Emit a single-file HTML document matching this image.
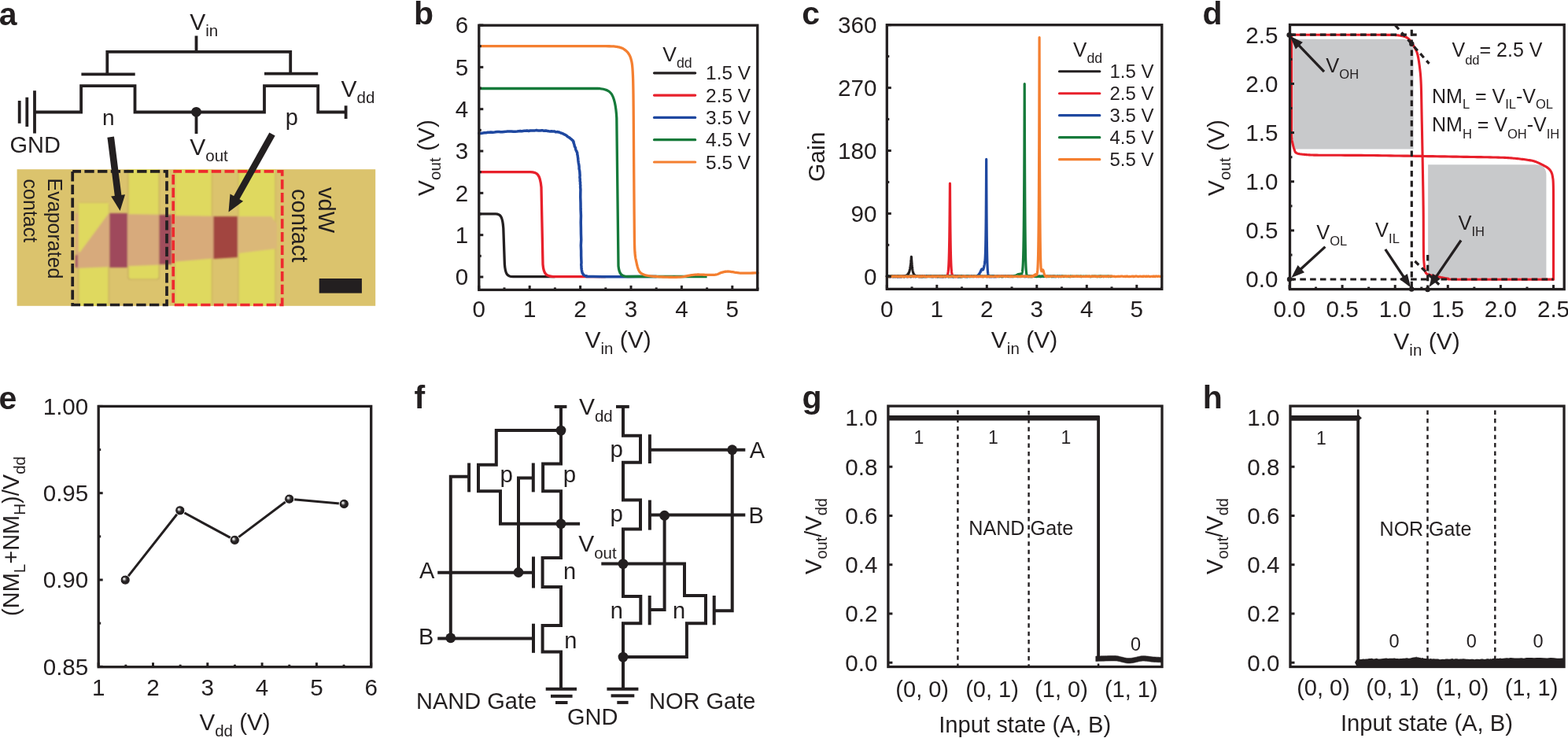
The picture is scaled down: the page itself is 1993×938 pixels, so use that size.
<!DOCTYPE html><html><head><meta charset="utf-8"><style>html,body{margin:0;padding:0;background:#fff;}svg{display:block;}text{font-family:'Liberation Sans', Arial, Helvetica, sans-serif;}</style></head><body>
<svg width="1993" height="938" viewBox="0 0 1993 938">
<defs><radialGradient id="sph" cx="0.5" cy="0.5" r="0.5" fx="0.36" fy="0.36"><stop offset="0" stop-color="#ffffff"/><stop offset="0.18" stop-color="#c8c8c8"/><stop offset="0.42" stop-color="#3a3738"/><stop offset="0.6" stop-color="#231f20"/><stop offset="1" stop-color="#231f20"/></radialGradient><filter id="blur1" x="-5%" y="-5%" width="110%" height="110%"><feGaussianBlur stdDeviation="1.2"/></filter></defs>
<rect width="1993" height="938" fill="#fff"/>
<text x="-1.2" y="31.6" font-size="41" font-weight="bold" fill="#231f20">a</text>
<text x="526" y="31.3" font-size="41" font-weight="bold" fill="#231f20">b</text>
<text x="1019.2" y="31.2" font-size="41" font-weight="bold" fill="#231f20">c</text>
<text x="1528.5" y="30.5" font-size="41" font-weight="bold" fill="#231f20">d</text>
<text x="-1.6" y="520.1" font-size="41" font-weight="bold" fill="#231f20">e</text>
<text x="526.5" y="519" font-size="41" font-weight="bold" fill="#231f20">f</text>
<text x="1019.5" y="519.3" font-size="41" font-weight="bold" fill="#231f20">g</text>
<text x="1528.7" y="519.1" font-size="41" font-weight="bold" fill="#231f20">h</text>
<g>
<rect x="21.6" y="215.2" width="455.6" height="173.6" fill="#dbc36d"/>
<clipPath id="photoclip"><rect x="21.6" y="215.2" width="455.6" height="173.6"/></clipPath><g clip-path="url(#photoclip)"><g filter="url(#blur1)">
<rect x="99.7" y="258" width="38.5" height="135" rx="3" fill="#dfd95e" stroke="#c5a862" stroke-width="1.2"/>
<path d="M162.9 210 V352 Q162.9 355 165.9 355 H199.3 Q202.3 355 202.3 352 V210 Z" fill="#dfd95e" stroke="#c5a862" stroke-width="1.2"/>
<rect x="222" y="210" width="47.4" height="185" fill="#dfd95e" stroke="#c5a862" stroke-width="1"/>
<rect x="303" y="210" width="47" height="185" fill="#dfd95e" stroke="#c5a862" stroke-width="1"/>
<polygon points="96,271 218,273 218,336 96,341" fill="#d7aa7b"/>
<polygon points="218,274 303,275 303,326 218,333" fill="#d8ab7a"/>
<polygon points="303,275 345,275 352,285 352,316 303,322" fill="#dbb878"/>
<polygon points="99.7,258 138.2,258 138.2,271 101.7,320.5 99.7,320" fill="#dfd95e"/>
<rect x="139.2" y="271" width="22.7" height="69" fill="#9f4a5b"/>
<rect x="202.3" y="273" width="15.7" height="63" fill="#a04e5c"/>
<polygon points="271.4,275 302,275 302,327 271.4,329" fill="#a2443f"/>
<rect x="95.8" y="324" width="3" height="16" fill="#a05068"/>
</g></g>
<rect x="92.2" y="217.9" width="119.8" height="169.6" fill="none" stroke="#231f20" stroke-width="3.7" stroke-dasharray="12.3 4.4" stroke-dashoffset="1.5"/>
<rect x="220.2" y="217.9" width="138.5" height="169.6" fill="none" stroke="#ee2a2e" stroke-width="3.7" stroke-dasharray="12.3 4.4" stroke-dashoffset="1.5"/>
<rect x="405.7" y="354" width="54.2" height="18.6" fill="#231f20"/>
<text transform="translate(60.8 226.6) rotate(90)" font-size="25" fill="#231f20">Evaporated</text>
<text transform="translate(30.4 227.6) rotate(90)" font-size="25" fill="#231f20">contact</text>
<text transform="translate(405.4 238) rotate(90)" font-size="29" fill="#231f20">vdW</text>
<text transform="translate(370.9 240) rotate(90)" font-size="29" fill="#231f20">contact</text>
</g>
<path d="M44 142.5 H103.1 V109.1 H171.5 V142.5 H336 V109.1 H404.2 V142.5 H439.6" stroke="#231f20" stroke-width="3.8" fill="none"/>
<line x1="103.4" y1="94.4" x2="171.7" y2="94.4" stroke="#231f20" stroke-width="3.8"/>
<line x1="336" y1="93.6" x2="404.2" y2="93.6" stroke="#231f20" stroke-width="3.8"/>
<path d="M136.3 94.4 V65.9 H369.2 V93.6" stroke="#231f20" stroke-width="3.8" fill="none"/>
<line x1="249.5" y1="45.5" x2="249.5" y2="65.9" stroke="#231f20" stroke-width="3.8"/>
<line x1="249.5" y1="142" x2="249.5" y2="170" stroke="#231f20" stroke-width="3.8"/>
<circle cx="249.5" cy="142.3" r="6.4" fill="#231f20"/>
<line x1="439.6" y1="134.3" x2="439.6" y2="151" stroke="#231f20" stroke-width="3.8"/>
<line x1="24.7" y1="128" x2="24.7" y2="156.8" stroke="#231f20" stroke-width="3.8"/>
<line x1="34.3" y1="123.7" x2="34.3" y2="161" stroke="#231f20" stroke-width="3.8"/>
<line x1="44" y1="115.2" x2="44" y2="169.5" stroke="#231f20" stroke-width="3.8"/>
<line x1="140.7" y1="174.1" x2="150.21" y2="249.25" stroke="#231f20" stroke-width="8.6"/>
<polygon points="152.6,268.1 141.16,249.39 159.02,247.13" fill="#231f20"/>
<line x1="346" y1="170.5" x2="300.28" y2="252.05" stroke="#231f20" stroke-width="8.4"/>
<polygon points="290.5,269.5 292.48,246.54 309.06,255.83" fill="#231f20"/>
<text x="241.3" y="38" font-size="30" fill="#231f20"><tspan dy="-0" font-size="30">V</tspan><tspan dy="8.3" font-size="20.5">in</tspan></text>
<text x="433.5" y="123" font-size="30" fill="#231f20"><tspan dy="-0" font-size="30">V</tspan><tspan dy="8.3" font-size="20.5">dd</tspan></text>
<text x="241.3" y="196.7" font-size="30" fill="#231f20"><tspan dy="-0" font-size="30">V</tspan><tspan dy="8.3" font-size="20.5">out</tspan></text>
<text x="12.5" y="194.3" font-size="29" fill="#231f20">GND</text>
<text x="130" y="159" font-size="28" fill="#231f20">n</text>
<text x="362.8" y="158.6" font-size="29" fill="#231f20">p</text>
<path d="M609 271.9 H630 C636.5 271.9 638.8 276 639.8 290 L641.4 336 C642.3 348 644.5 351.6 652 351.6 H705.4" stroke="#231f20" stroke-width="3.3" fill="none" stroke-linejoin="round"/>
<path d="M609 218.7 H674 C682.5 218.7 686.5 221.5 688 238 L690 336 C691 348 694 351.3 703 351.6 H769.8" stroke="#e8202b" stroke-width="3.3" fill="none" stroke-linejoin="round"/>
<path d="M608.83 169.53 L610.25 169.3 L611.67 169.4 L613.89 169.06 L615.84 168.71 L617.72 168.65 L620.04 168.3 L622.1 168.28 L623.82 168 L626.24 168.35 L628.23 168.13 L629.89 167.8 L632.2 167.53 L634.51 167.61 L636.19 167.83 L638.27 167.83 L640.57 167.49 L642.69 167.37 L644.84 166.98 L647.53 167.03 L649.96 166.93 L652.57 167.33 L654.95 167.16 L657.24 167.05 L659.21 166.78 L661.53 166.49 L663.37 166.87 L664.8 166.4 L666.47 166.31 L668.44 166.21 L669.76 165.92 L672.02 166.46 L673.86 166.01 L675.89 166.1 L677.76 165.94 L680.01 165.9 L681.94 165.57 L684.25 166.12 L686.6 165.95 L688.98 165.68 L691.21 166.28 L693.8 166.09 L695.79 166.42 L697.72 166.76 L699.16 166.93 L700.99 166.81 L702.42 166.92 L703.57 166.93 L705.19 167.06 L706.1 167.7 L707.68 167.65 L708.87 167.54 L709.7 167.91 L710.88 168.07 L711.78 168.6 L712.99 168.95 L714.31 169.34 L715.37 169.78 L716.24 170.23 L717.06 170.71 L717.88 171.2 L719.12 171.72 L719.78 172.27 L720.71 172.84 L721.17 173.41 L722.03 173.97 L723.07 174.5 L723.74 175 L724.44 175.49 L724.93 175.97 L725.42 176.43 L726.04 176.87 L726.67 177.3 L726.85 177.66 L727.35 177.96 L727.57 178.24 L728.13 178.55 L728.06 178.96 L728.69 179.5 L729.11 180.22 L728.89 181.07 L729.41 182.02 L729.66 183 L730.01 183.98 L730.14 184.9 L730.27 185.77 L730.66 186.63 L731.27 187.48 L731.57 188.33 L731.51 189.17 L731.8 190 L732.09 190.77 L732.35 191.46 L732.85 192.14 L732.98 192.89 L733.61 193.78 L733.78 194.9 L733.78 196.27 L734.24 197.83 L734.39 199.53 L734.72 201.33 L734.82 203.17 L735.03 205 L735.27 206.83 L735.6 208.69 L735.99 210.59 L736.13 212.54 L736.08 214.55 L736.61 216.6 L736.86 218.71 L736.98 220.87 L737.15 223.09 L736.9 225.35 L737.26 227.65 L737.18 230 L737.64 232.06 L737.43 233.77 L737.78 235.53 L737.62 237.72 L737.92 240.75 L737.81 245 L737.76 250.82 L738.02 257.96 L738.07 265.94 L738.45 274.26 L738.23 282.44 L738.4 290 L738.48 297.27 L738.73 304.7 L738.34 312 L738.64 318.85 L738.64 324.95 L738.82 330 L739 333.81 L738.72 336.59 L738.98 338.62 L738.97 340.19 L739.1 341.55 L739.3 343 L739.55 344.45 L739.83 345.67 L740.16 346.69 L740.54 347.56 L740.98 348.31 L741.5 349 L742.08 349.58 L742.7 350.01 L743.39 350.34 L744.16 350.59 L745.02 350.79 L746 351 L746.3 351.19 L745.73 351.33 L745.27 351.43 L745.86 351.5 L748.45 351.55 L754 351.6 L764.12 351.63 L778.36 351.64 L794.6 351.64 L810.73 351.62 L824.64 351.61 L834.2 351.6" stroke="#1f48a0" stroke-width="3.5" fill="none" stroke-linejoin="round" stroke-linecap="round"/>
<path d="M609 112.5 H760 C775 112.5 782 117 783.8 150 L786 338 C787 348.5 790 351.3 798 351.5 H898.6" stroke="#157a3a" stroke-width="3.3" fill="none" stroke-linejoin="round"/>
<path d="M609 58.6 L616.16 58.6 L625.84 58.6 L637.38 58.6 L650.12 58.59 L663.41 58.59 L676.59 58.59 L689.01 58.6 L700 58.6 L710.15 58.6 L720.34 58.61 L730.34 58.61 L739.94 58.62 L748.92 58.63 L757.07 58.64 L764.17 58.67 L770 58.7 L774.31 58.74 L777.2 58.78 L778.97 58.82 L779.94 58.87 L780.42 58.93 L780.71 59 L781.14 59.09 L782 59.2 L783.13 59.33 L784.16 59.47 L785.1 59.62 L785.96 59.79 L786.77 59.97 L787.54 60.17 L788.27 60.38 L789 60.6 L789.69 60.83 L790.31 61.06 L790.89 61.3 L791.43 61.55 L791.96 61.83 L792.49 62.14 L793.03 62.5 L793.6 62.9 L794.21 63.35 L794.84 63.82 L795.48 64.33 L796.12 64.88 L796.75 65.46 L797.37 66.09 L797.95 66.77 L798.5 67.5 L799.01 68.26 L799.51 69.04 L799.98 69.86 L800.43 70.72 L800.86 71.66 L801.26 72.67 L801.64 73.78 L802 75 L802.33 76.23 L802.63 77.42 L802.9 78.64 L803.16 79.97 L803.39 81.49 L803.61 83.29 L803.81 85.43 L804 88 L804.18 90.76 L804.33 93.54 L804.47 96.5 L804.59 99.81 L804.7 103.65 L804.8 108.18 L804.9 113.57 L805 120 L805.09 127.7 L805.18 136.62 L805.25 146.48 L805.32 157 L805.39 167.89 L805.46 178.88 L805.53 189.67 L805.6 200 L805.68 210.29 L805.75 220.98 L805.83 231.85 L805.9 242.62 L805.98 253.08 L806.05 262.95 L806.12 272.01 L806.2 280 L806.26 286.92 L806.31 292.99 L806.36 298.33 L806.41 303.05 L806.47 307.27 L806.54 311.09 L806.65 314.63 L806.8 318 L806.98 321.02 L807.2 323.51 L807.43 325.58 L807.69 327.32 L807.97 328.85 L808.27 330.26 L808.58 331.68 L808.9 333.2 L809.23 334.78 L809.58 336.3 L809.94 337.75 L810.31 339.12 L810.71 340.42 L811.12 341.61 L811.55 342.71 L812 343.7 L812.45 344.55 L812.89 345.27 L813.33 345.88 L813.79 346.39 L814.31 346.85 L814.88 347.27 L815.54 347.68 L816.3 348.1 L817.12 348.52 L817.98 348.91 L818.88 349.26 L819.87 349.59 L820.96 349.9 L822.18 350.18 L823.55 350.45 L825.1 350.7 L826.85 350.93 L828.78 351.14 L830.87 351.34 L833.08 351.51 L835.4 351.66 L837.79 351.79 L840.23 351.9 L842.7 352 L845.29 352.09 L848.08 352.16 L850.98 352.23 L853.93 352.27 L856.84 352.28 L859.64 352.26 L862.25 352.21 L864.6 352.1 L866.7 351.93 L868.61 351.68 L870.38 351.39 L872.02 351.06 L873.55 350.73 L875.01 350.41 L876.42 350.13 L877.8 349.9 L879.08 349.72 L880.21 349.55 L881.23 349.41 L882.21 349.29 L883.18 349.19 L884.2 349.1 L885.32 349.04 L886.6 349 L888.05 348.99 L889.63 349.03 L891.31 349.09 L893.04 349.17 L894.78 349.25 L896.5 349.33 L898.15 349.38 L899.7 349.4 L901.17 349.4 L902.61 349.41 L904.02 349.41 L905.38 349.39 L906.7 349.35 L907.96 349.28 L909.16 349.17 L910.3 349 L911.34 348.76 L912.28 348.45 L913.15 348.09 L913.97 347.71 L914.77 347.31 L915.57 346.93 L916.41 346.59 L917.3 346.3 L918.23 346.05 L919.17 345.82 L920.12 345.6 L921.08 345.4 L922.07 345.24 L923.08 345.11 L924.12 345.03 L925.2 345 L926.33 345.04 L927.52 345.15 L928.75 345.31 L930 345.51 L931.26 345.73 L932.5 345.94 L933.72 346.14 L934.9 346.3 L935.96 346.44 L936.89 346.58 L937.77 346.72 L938.64 346.86 L939.6 346.98 L940.7 347.08 L942.01 347.15 L943.6 347.2 L945.65 347.21 L948.15 347.18 L950.94 347.13 L953.84 347.06 L956.68 346.98 L959.26 346.9 L961.43 346.84 L963 346.8" stroke="#f47f30" stroke-width="3.3" fill="none" stroke-linejoin="round" stroke-linecap="round"/>
<line x1="608.8" y1="368.4" x2="608.8" y2="362.9" stroke="#231f20" stroke-width="3"/>
<text x="608.8" y="403.3" font-size="29.6" text-anchor="middle" fill="#231f20">0</text>
<line x1="641" y1="368.4" x2="641" y2="365.4" stroke="#231f20" stroke-width="3"/>
<line x1="673.2" y1="368.4" x2="673.2" y2="362.9" stroke="#231f20" stroke-width="3"/>
<text x="673.2" y="403.3" font-size="29.6" text-anchor="middle" fill="#231f20">1</text>
<line x1="705.4" y1="368.4" x2="705.4" y2="365.4" stroke="#231f20" stroke-width="3"/>
<line x1="737.6" y1="368.4" x2="737.6" y2="362.9" stroke="#231f20" stroke-width="3"/>
<text x="737.6" y="403.3" font-size="29.6" text-anchor="middle" fill="#231f20">2</text>
<line x1="769.8" y1="368.4" x2="769.8" y2="365.4" stroke="#231f20" stroke-width="3"/>
<line x1="802" y1="368.4" x2="802" y2="362.9" stroke="#231f20" stroke-width="3"/>
<text x="802" y="403.3" font-size="29.6" text-anchor="middle" fill="#231f20">3</text>
<line x1="834.2" y1="368.4" x2="834.2" y2="365.4" stroke="#231f20" stroke-width="3"/>
<line x1="866.4" y1="368.4" x2="866.4" y2="362.9" stroke="#231f20" stroke-width="3"/>
<text x="866.4" y="403.3" font-size="29.6" text-anchor="middle" fill="#231f20">4</text>
<line x1="898.6" y1="368.4" x2="898.6" y2="365.4" stroke="#231f20" stroke-width="3"/>
<line x1="930.8" y1="368.4" x2="930.8" y2="362.9" stroke="#231f20" stroke-width="3"/>
<text x="930.8" y="403.3" font-size="29.6" text-anchor="middle" fill="#231f20">5</text>
<line x1="963" y1="368.4" x2="963" y2="365.4" stroke="#231f20" stroke-width="3"/>
<line x1="608.8" y1="352" x2="614.3" y2="352" stroke="#231f20" stroke-width="3"/>
<text x="595.3" y="362.33" font-size="29.6" text-anchor="end" fill="#231f20">0</text>
<line x1="608.8" y1="325.33" x2="611.8" y2="325.33" stroke="#231f20" stroke-width="3"/>
<line x1="608.8" y1="298.67" x2="614.3" y2="298.67" stroke="#231f20" stroke-width="3"/>
<text x="595.3" y="309" font-size="29.6" text-anchor="end" fill="#231f20">1</text>
<line x1="608.8" y1="272" x2="611.8" y2="272" stroke="#231f20" stroke-width="3"/>
<line x1="608.8" y1="245.34" x2="614.3" y2="245.34" stroke="#231f20" stroke-width="3"/>
<text x="595.3" y="255.67" font-size="29.6" text-anchor="end" fill="#231f20">2</text>
<line x1="608.8" y1="218.68" x2="611.8" y2="218.68" stroke="#231f20" stroke-width="3"/>
<line x1="608.8" y1="192.01" x2="614.3" y2="192.01" stroke="#231f20" stroke-width="3"/>
<text x="595.3" y="202.34" font-size="29.6" text-anchor="end" fill="#231f20">3</text>
<line x1="608.8" y1="165.34" x2="611.8" y2="165.34" stroke="#231f20" stroke-width="3"/>
<line x1="608.8" y1="138.68" x2="614.3" y2="138.68" stroke="#231f20" stroke-width="3"/>
<text x="595.3" y="149.01" font-size="29.6" text-anchor="end" fill="#231f20">4</text>
<line x1="608.8" y1="112.02" x2="611.8" y2="112.02" stroke="#231f20" stroke-width="3"/>
<line x1="608.8" y1="85.35" x2="614.3" y2="85.35" stroke="#231f20" stroke-width="3"/>
<text x="595.3" y="95.68" font-size="29.6" text-anchor="end" fill="#231f20">5</text>
<line x1="608.8" y1="58.69" x2="611.8" y2="58.69" stroke="#231f20" stroke-width="3"/>
<line x1="608.8" y1="32.02" x2="614.3" y2="32.02" stroke="#231f20" stroke-width="3"/>
<text x="595.3" y="42.35" font-size="29.6" text-anchor="end" fill="#231f20">6</text>
<rect x="608.8" y="32.2" width="354" height="336.2" fill="none" stroke="#231f20" stroke-width="3.3"/>
<text x="842.3" y="77.8" font-size="26.5" fill="#231f20"><tspan dy="-0" font-size="26.5">V</tspan><tspan dy="8" font-size="17.8">dd</tspan></text>
<line x1="831.5" y1="92.8" x2="883.7" y2="92.8" stroke="#231f20" stroke-width="3.2" stroke-linecap="round"/>
<text x="897" y="101.3" font-size="24.5" fill="#231f20">1.5 V</text>
<line x1="831.5" y1="121.1" x2="883.7" y2="121.1" stroke="#e8202b" stroke-width="3.2" stroke-linecap="round"/>
<text x="897" y="129.6" font-size="24.5" fill="#231f20">2.5 V</text>
<line x1="831.5" y1="149.4" x2="883.7" y2="149.4" stroke="#1f48a0" stroke-width="3.2" stroke-linecap="round"/>
<text x="897" y="157.9" font-size="24.5" fill="#231f20">3.5 V</text>
<line x1="831.5" y1="177.7" x2="883.7" y2="177.7" stroke="#157a3a" stroke-width="3.2" stroke-linecap="round"/>
<text x="897" y="186.2" font-size="24.5" fill="#231f20">4.5 V</text>
<line x1="831.5" y1="206" x2="883.7" y2="206" stroke="#f47f30" stroke-width="3.2" stroke-linecap="round"/>
<text x="897" y="214.5" font-size="24.5" fill="#231f20">5.5 V</text>
<text x="785.7" y="441.9" font-size="30" text-anchor="middle" fill="#231f20"><tspan dy="-0" font-size="30">V</tspan><tspan dy="8.2" font-size="20.5">in</tspan><tspan dy="-8.2" font-size="30"> (V)</tspan></text>
<text x="0" y="0" font-size="30" text-anchor="middle" fill="#231f20" transform="translate(552 200.5) rotate(-90)"><tspan dy="-0" font-size="30">V</tspan><tspan dy="8.2" font-size="20.5">out</tspan><tspan dy="-8.2" font-size="30"> (V)</tspan></text>
<path d="M1127.3 351.04 L1127.49 351.54 L1127.68 351.48 L1127.87 351.13 L1128.06 351.3 L1128.25 351.26 L1128.44 351.41 L1128.63 351.5 L1128.82 351.02 L1129.01 350.97 L1129.2 351.54 L1129.4 351.25 L1129.59 351.48 L1129.78 350.95 L1129.97 351.26 L1130.16 351.46 L1130.35 351.11 L1130.54 351.61 L1130.73 351.58 L1130.92 350.97 L1131.11 350.97 L1131.3 351.33 L1131.49 351.61 L1131.68 351.22 L1131.87 351.1 L1132.06 351.25 L1132.25 350.97 L1132.44 351.11 L1132.63 351.26 L1132.82 351.3 L1133.01 351.11 L1133.21 351.11 L1133.4 351.1 L1133.59 351.27 L1133.78 351.15 L1133.97 350.96 L1134.16 351.54 L1134.35 351.34 L1134.54 351.4 L1134.73 351.08 L1134.92 351.64 L1135.11 351.55 L1135.3 351.03 L1135.49 351.18 L1135.68 351.45 L1135.87 351.45 L1136.06 351.61 L1136.25 351.25 L1136.44 351.53 L1136.63 351.42 L1136.83 351.16 L1137.02 351.36 L1137.21 351.57 L1137.4 351.54 L1137.59 351.3 L1137.78 351.36 L1137.97 350.97 L1138.16 351.12 L1138.35 351.51 L1138.54 351.24 L1138.73 351.07 L1138.92 351.33 L1139.11 351.44 L1139.3 351.42 L1139.49 351.21 L1139.68 351.26 L1139.87 351.3 L1140.06 351.49 L1140.25 351.31 L1140.44 351.22 L1140.63 351.29 L1140.83 350.97 L1141.02 350.98 L1141.21 351.44 L1141.4 351.63 L1141.59 351.36 L1141.78 351.22 L1141.97 351.06 L1142.16 351.3 L1142.35 351.63 L1142.54 351.48 L1142.73 351.32 L1142.92 351.54 L1143.11 351.1 L1143.3 351.3 L1143.49 351.61 L1143.68 351.34 L1143.87 351.26 L1144.06 351.13 L1144.25 351.32 L1144.44 351.6 L1144.64 350.94 L1144.83 351.48 L1145.02 351.5 L1145.21 351.55 L1145.4 351.44 L1145.59 351.49 L1145.78 351.28 L1145.97 351.31 L1146.16 351.21 L1146.35 350.95 L1146.54 351.51 L1146.73 351.3 L1146.92 351.03 L1147.11 351.24 L1147.3 351.22 L1147.49 351.12 L1147.68 351.1 L1147.87 351.23 L1148.06 351.28 L1148.25 351.26 L1148.31 351.15 L1148.36 350.84 L1148.41 350.98 L1148.45 350.94 L1148.46 351.23 L1148.51 351.42 L1148.56 351.37 L1148.61 351.36 L1148.64 351.37 L1148.66 350.98 L1148.71 351.39 L1148.76 351.26 L1148.81 350.85 L1148.83 350.8 L1148.86 350.79 L1148.92 351.31 L1148.97 350.95 L1149.02 350.85 L1149.07 351.2 L1149.12 351 L1149.17 350.8 L1149.21 350.86 L1149.22 351.12 L1149.27 350.86 L1149.32 350.93 L1149.37 351.23 L1149.4 351.05 L1149.42 350.95 L1149.47 351.05 L1149.52 350.73 L1149.58 350.98 L1149.59 351 L1149.63 350.84 L1149.68 350.77 L1149.73 351.32 L1149.78 351.04 L1149.83 350.82 L1149.88 351.09 L1149.93 351.23 L1149.97 350.67 L1149.98 350.67 L1150.03 350.75 L1150.08 351.14 L1150.13 350.74 L1150.16 351.12 L1150.19 351.09 L1150.24 350.99 L1150.29 350.76 L1150.34 351.27 L1150.35 351.15 L1150.39 350.94 L1150.44 350.73 L1150.49 351.02 L1150.54 350.83 L1150.59 350.94 L1150.64 350.75 L1150.69 350.96 L1150.73 350.55 L1150.74 350.72 L1150.79 351.17 L1150.85 351.1 L1150.9 350.68 L1150.92 351.06 L1150.95 350.67 L1151 351.1 L1151.05 350.95 L1151.1 350.71 L1151.11 350.59 L1151.15 350.41 L1151.2 351 L1151.25 350.4 L1151.3 350.93 L1151.35 351.01 L1151.4 350.72 L1151.46 350.43 L1151.49 350.9 L1151.51 350.97 L1151.56 350.76 L1151.61 350.61 L1151.66 350.5 L1151.68 350.47 L1151.71 350.36 L1151.76 350.67 L1151.81 350.48 L1151.86 350.29 L1151.87 350.22 L1151.91 350.6 L1151.96 350.32 L1152.01 350.44 L1152.07 350.29 L1152.12 350.65 L1152.17 350.64 L1152.22 350 L1152.26 350.11 L1152.27 350.19 L1152.32 350.63 L1152.37 350.46 L1152.42 350.12 L1152.45 350.02 L1152.47 350.32 L1152.52 350.41 L1152.57 350.44 L1152.62 350 L1152.64 350.37 L1152.67 350.21 L1152.73 350.03 L1152.78 350.35 L1152.83 349.79 L1152.88 350.1 L1152.93 349.61 L1152.98 349.64 L1153.02 350.13 L1153.03 349.63 L1153.08 349.97 L1153.13 349.82 L1153.18 349.94 L1153.21 349.59 L1153.23 349.55 L1153.28 349.47 L1153.34 349.83 L1153.39 349.6 L1153.4 349.83 L1153.44 349.75 L1153.49 349.17 L1153.54 349.41 L1153.59 349.05 L1153.64 348.95 L1153.69 348.92 L1153.74 349.42 L1153.78 349.32 L1153.79 349.33 L1153.84 348.93 L1153.89 349.06 L1153.94 349.12 L1153.97 348.8 L1154 348.91 L1154.05 348.6 L1154.1 348.43 L1154.15 348.49 L1154.16 348.91 L1154.2 348.63 L1154.25 348.81 L1154.3 348.4 L1154.35 348.2 L1154.4 348.48 L1154.45 348.42 L1154.5 347.77 L1154.54 348.17 L1154.55 347.74 L1154.61 347.67 L1154.66 348.11 L1154.71 347.43 L1154.73 347.52 L1154.76 348 L1154.81 347.5 L1154.86 347.19 L1154.91 347.12 L1154.92 347.14 L1154.96 347.42 L1155.01 346.86 L1155.06 347.31 L1155.11 346.82 L1155.16 347.12 L1155.21 346.95 L1155.27 346.54 L1155.3 346.45 L1155.32 346.41 L1155.37 346.28 L1155.42 346.15 L1155.47 346.01 L1155.49 345.94 L1155.52 345.86 L1155.57 345.72 L1155.62 345.57 L1155.67 345.41 L1155.68 345.37 L1155.72 345.25 L1155.77 345.09 L1155.82 344.92 L1155.88 344.75 L1155.93 344.57 L1155.98 344.39 L1156.03 344.2 L1156.07 344.06 L1156.08 344.01 L1156.13 343.81 L1156.18 343.61 L1156.23 343.4 L1156.26 343.3 L1156.28 343.19 L1156.33 342.97 L1156.38 342.74 L1156.43 342.51 L1156.45 342.45 L1156.48 342.28 L1156.54 342.03 L1156.59 341.78 L1156.64 341.52 L1156.69 341.26 L1156.74 340.99 L1156.79 340.71 L1156.83 340.5 L1156.84 340.42 L1156.89 340.13 L1156.94 339.83 L1156.99 339.52 L1157.02 339.36 L1157.04 339.2 L1157.09 338.87 L1157.14 338.54 L1157.2 338.19 L1157.21 338.1 L1157.25 337.84 L1157.3 337.47 L1157.35 337.1 L1157.4 336.72 L1157.45 336.32 L1157.5 335.92 L1157.55 335.5 L1157.59 335.18 L1157.6 335.08 L1157.65 334.64 L1157.7 334.19 L1157.75 333.72 L1157.78 333.49 L1157.81 333.25 L1157.86 332.76 L1157.91 332.26 L1157.96 331.75 L1157.97 331.61 L1158.01 331.22 L1158.06 330.67 L1158.11 330.12 L1158.16 329.54 L1158.21 328.96 L1158.26 328.35 L1158.31 327.73 L1158.35 327.26 L1158.36 327.1 L1158.41 326.44 L1158.47 327.33 L1158.52 328.19 L1158.54 328.6 L1158.57 329.01 L1158.62 329.81 L1158.67 330.57 L1158.72 331.31 L1158.73 331.5 L1158.77 332.03 L1158.82 332.72 L1158.87 333.38 L1158.92 334.02 L1158.97 334.64 L1159.02 335.23 L1159.08 335.81 L1159.11 336.22 L1159.13 336.36 L1159.18 336.89 L1159.23 337.41 L1159.28 337.9 L1159.3 338.14 L1159.33 338.38 L1159.38 338.84 L1159.43 339.29 L1159.48 339.72 L1159.49 339.82 L1159.53 340.13 L1159.58 340.53 L1159.63 340.91 L1159.68 341.28 L1159.74 341.64 L1159.79 341.99 L1159.84 342.32 L1159.88 342.56 L1159.89 342.64 L1159.94 342.95 L1159.99 343.25 L1160.04 343.54 L1160.07 343.68 L1160.09 343.81 L1160.14 344.08 L1160.19 344.34 L1160.24 344.59 L1160.26 344.65 L1160.29 344.83 L1160.35 345.06 L1160.4 345.28 L1160.45 345.5 L1160.5 345.7 L1160.55 345.9 L1160.6 346.1 L1160.64 346.24 L1160.65 346.28 L1160.7 346.46 L1160.75 346.63 L1160.8 346.8 L1160.83 346.88 L1160.85 346.96 L1160.9 347.12 L1160.95 347.26 L1161.01 347.41 L1161.02 347.44 L1161.06 347.55 L1161.11 347.68 L1161.16 347.81 L1161.21 347.94 L1161.26 348.06 L1161.31 348.17 L1161.36 348.28 L1161.4 348.36 L1161.41 348.39 L1161.46 348.5 L1161.51 348.6 L1161.56 348.69 L1161.59 348.59 L1161.62 348.61 L1161.67 348.86 L1161.72 348.68 L1161.77 349.15 L1161.78 348.74 L1161.82 348.78 L1161.87 349.54 L1161.92 349.13 L1161.97 349.42 L1162.02 349.38 L1162.07 349.36 L1162.12 349.25 L1162.16 349.89 L1162.17 349.94 L1162.22 350 L1162.28 349.46 L1162.33 349.59 L1162.35 349.9 L1162.38 350.18 L1162.43 349.92 L1162.48 350.08 L1162.53 350.11 L1162.54 349.84 L1162.58 350.07 L1162.63 349.95 L1162.68 349.95 L1162.73 349.88 L1162.78 350.06 L1162.83 350.59 L1162.89 350.25 L1162.92 350.42 L1162.94 350.42 L1162.99 350.67 L1163.04 350.31 L1163.09 350.29 L1163.11 350.32 L1163.14 350.33 L1163.19 350.73 L1163.24 350.79 L1163.29 350.4 L1163.3 350.43 L1163.34 350.6 L1163.39 350.65 L1163.44 350.69 L1163.49 350.47 L1163.55 350.33 L1163.6 350.51 L1163.65 350.41 L1163.69 350.76 L1163.7 350.43 L1163.75 350.46 L1163.8 350.87 L1163.85 350.65 L1163.88 351.01 L1163.9 350.81 L1163.95 351.08 L1164 350.6 L1164.05 350.86 L1164.07 351.07 L1164.1 350.58 L1164.16 351.21 L1164.21 350.68 L1164.26 351.11 L1164.31 351.27 L1164.36 351.17 L1164.41 350.83 L1164.45 350.69 L1164.46 350.98 L1164.51 351.28 L1164.56 350.85 L1164.61 351.28 L1164.64 350.76 L1164.66 351.3 L1164.71 350.7 L1164.76 350.91 L1164.82 351.33 L1164.83 351.26 L1164.87 351.34 L1164.92 351.3 L1164.97 351.24 L1165.02 351.21 L1165.07 350.86 L1165.12 351.05 L1165.17 350.86 L1165.21 351.26 L1165.22 351.23 L1165.27 350.94 L1165.32 350.82 L1165.37 351.45 L1165.4 351.35 L1165.43 351.17 L1165.48 351.17 L1165.53 351.39 L1165.58 351.12 L1165.59 351.08 L1165.63 351.04 L1165.68 350.99 L1165.73 350.83 L1165.78 351.27 L1165.83 351.12 L1165.88 351.23 L1165.93 350.88 L1165.97 351.09 L1165.98 350.94 L1166.03 350.93 L1166.09 351.03 L1166.14 351.43 L1166.16 351.13 L1166.19 351.14 L1166.24 351.29 L1166.29 351.02 L1166.34 350.87 L1166.35 351.24 L1166.39 351.22 L1166.44 351.32 L1166.49 351.18 L1166.54 351.36 L1166.59 351.39 L1166.64 351.05 L1166.7 351.23 L1166.73 351.22 L1166.75 351.04 L1166.8 351.18 L1166.85 351.28 L1166.9 351.53 L1166.92 351.54 L1166.95 351.09 L1167 351.35 L1167.05 350.93 L1167.1 350.95 L1167.11 351.26 L1167.15 351.52 L1167.2 351.02 L1167.25 351.44 L1167.31 351.53 L1167.36 351.13 L1167.41 351.39 L1167.46 351.51 L1167.5 351.17 L1167.51 351.4 L1167.56 351.43 L1167.61 351.33 L1167.66 351.52 L1167.69 351.55 L1167.71 351.59 L1167.76 351.32 L1167.81 351.04 L1167.86 351.1 L1167.88 351.07 L1167.91 351.32 L1167.97 351.45 L1168.02 350.96 L1168.07 351.4 L1168.12 351.43 L1168.17 351.17 L1168.22 351.29 L1168.26 351.04 L1168.27 351.44 L1168.32 350.96 L1168.37 351.62 L1168.42 351.5 L1168.45 351.37 L1168.47 351.12 L1168.52 351.57 L1168.58 351.6 L1168.64 351.03 L1168.83 351.48 L1169.02 351.53 L1169.21 351.4 L1169.4 351.43 L1169.59 351.25 L1169.78 351.59 L1169.97 351.62 L1170.16 351.21 L1170.35 351.51 L1170.54 351.25 L1170.73 351.06 L1170.92 351.17 L1171.12 351.04 L1171.31 351.58 L1171.5 351.62 L1171.69 351.03 L1171.88 351.37 L1172.07 351.23 L1172.26 351.03 L1172.45 351.16 L1172.64 351.12 L1172.83 351.47 L1173.02 350.95 L1173.21 351.08 L1173.4 351.26 L1173.59 350.96 L1173.78 351.39 L1173.97 351.37 L1174.16 351.53 L1174.35 351.09 L1174.54 351.15 L1174.73 351.33 L1174.92 351.14 L1175.12 351.36 L1175.31 351.13 L1175.5 351.43 L1175.69 351.5 L1175.88 351.52 L1176.07 351.63 L1176.26 351.33 L1176.45 351.29 L1176.64 351.55 L1176.83 351.49 L1177.02 351.35 L1177.21 351.22 L1177.4 351.15 L1177.59 351.03 L1177.78 351.52 L1177.97 351.03 L1178.16 351.47 L1178.35 351.33 L1178.54 351.63 L1178.73 351.48 L1178.93 351.63 L1179.12 351.05 L1179.31 351.3 L1179.5 351.35 L1179.69 351.17 L1179.88 351.3 L1180.07 351.2 L1180.26 351.32 L1180.45 350.95 L1180.64 351.26 L1180.83 351.26 L1181.02 351.16 L1181.21 351.23 L1181.4 351.5 L1181.59 351.43 L1181.78 351.29 L1181.97 351.4 L1182.16 351.21 L1182.35 351.09 L1182.54 350.95 L1182.74 351.14 L1182.93 351.37 L1183.12 351.57 L1183.31 351.53 L1183.5 351.31 L1183.69 351.64 L1183.88 351.27 L1184.07 351.53 L1184.26 351.24 L1184.45 351.47 L1184.64 351.64 L1184.83 351.16 L1185.02 351.07 L1185.21 351.38 L1185.4 351.32 L1185.59 351.2 L1185.78 350.95 L1185.97 351.22 L1186.16 351.25 L1186.36 351.23 L1186.55 351.55 L1186.74 351.36 L1186.93 351.46 L1187.12 351.58 L1187.31 351.47 L1187.5 351.29 L1187.69 351.47 L1187.88 351.4 L1188.07 351.4 L1188.26 351.39 L1188.45 351.23 L1188.64 351.39 L1188.83 351.39 L1189.02 351.61 L1189.21 351.5 L1189.4 351.54 L1189.59 351.49 L1189.78 351.52 L1189.97 351.37 L1190.16 351.19 L1190.36 351.14 L1190.55 351.45 L1190.74 351.56 L1190.93 351.33 L1191.12 351.06 L1191.31 351.53 L1191.5 351.29 L1191.69 351.28 L1191.88 350.98 L1192.07 351.31 L1192.26 351.47 L1192.45 351.25 L1192.64 351.2 L1192.83 351.41 L1193.02 350.96 L1193.21 351.31 L1193.4 351.61 L1193.59 351.43 L1193.78 351.23 L1193.97 351.43 L1194.17 351.37 L1194.36 351.1 L1194.55 351.1 L1194.74 351.57 L1194.93 351.14 L1195.12 351 L1195.31 351.53 L1195.5 351.32 L1195.69 351.21 L1195.88 351.31 L1196.07 351.47 L1196.26 351.07 L1196.45 351.41 L1196.64 351.45 L1196.83 351.52 L1197.02 351.14 L1197.21 351.38 L1197.4 351.11 L1197.59 351.34 L1197.78 351.07 L1197.98 351.5 L1198.17 351.56 L1198.36 351.18 L1198.55 351.11 L1198.74 351.62 L1198.93 351.44 L1199.12 351.54 L1199.31 350.97 L1199.5 351.58 L1199.69 351.39 L1199.88 351.17 L1200.07 351.25 L1200.26 351.48 L1200.45 351.5 L1200.64 351.08 L1200.83 351.39 L1201.02 351.07 L1201.21 351.63 L1201.4 351.26 L1201.6 351.59 L1201.79 351.46 L1201.98 351.37 L1202.17 351.13 L1202.36 351.32 L1202.55 351.05 L1202.74 351.05 L1202.93 351.45 L1203.12 351.2 L1203.31 351.48 L1203.5 351.12 L1203.69 351.45 L1203.88 351.45 L1204.07 351.16 L1204.26 351.02 L1204.45 351.23 L1204.64 351.29 L1204.83 351.02 L1205.02 351.08 L1205.21 350.99 L1205.4 351.37 L1205.6 351.57 L1205.79 351.1 L1205.98 350.97 L1206.17 351.44 L1206.36 351.52 L1206.55 351.62 L1206.74 351.38 L1206.93 351.19 L1207.12 351.54 L1207.31 351.03 L1207.5 351.43 L1207.69 351.02 L1207.88 351.23 L1208.07 351.3 L1208.26 351.21 L1208.45 351.07 L1208.64 351.11 L1208.83 351.52 L1209.02 351.27 L1209.21 351.36 L1209.41 351.1 L1209.6 351.45 L1209.79 351.18 L1209.98 351.37 L1210.17 351.59 L1210.36 351.65 L1210.55 350.98 L1210.74 351.51 L1210.93 351.55 L1211.12 351.17 L1211.31 351.22 L1211.5 351.36 L1211.69 351.59 L1211.88 351.23 L1212.07 351.57 L1212.26 351.48 L1212.45 351.06 L1212.64 351.59 L1212.83 350.96 L1213.02 351.05 L1213.22 351.42 L1213.41 350.99 L1213.6 351.22 L1213.79 351.04 L1213.98 351.27 L1214.17 351.54 L1214.36 351.58 L1214.55 350.97 L1214.74 350.99 L1214.93 351.54 L1215.12 350.98 L1215.31 351.14 L1215.5 351.03 L1215.69 351.01 L1215.88 350.97 L1216.07 351.4 L1216.26 351.47 L1216.45 351.43 L1216.64 351.54 L1216.84 351.41 L1217.03 351.22 L1217.22 351.39 L1217.41 351.63 L1217.6 351.4 L1217.79 351.12 L1217.98 350.99 L1218.17 351.6 L1218.36 351.36 L1218.55 351.19 L1218.74 351.37 L1218.93 351.34 L1219.12 351.32 L1219.31 350.99 L1219.5 351.2 L1219.69 351.24 L1219.88 351.09 L1220.07 351.57 L1220.26 351.25 L1220.45 351.41 L1220.64 351.45 L1220.84 351.47 L1221.03 351.45 L1221.22 351.48 L1221.41 351.13 L1221.6 351.63 L1221.79 351.06 L1221.98 351.59 L1222.17 351.55 L1222.36 351.55 L1222.55 350.99" stroke="#231f20" stroke-width="3.2" fill="none" stroke-linejoin="round" stroke-linecap="round"/>
<path d="M1127.3 351.62 L1127.62 351.61 L1127.93 350.99 L1128.25 351.01 L1128.57 351.53 L1128.89 351.47 L1129.2 351.42 L1129.52 351.17 L1129.84 351.37 L1130.16 351.37 L1130.47 351.36 L1130.79 351.06 L1131.11 351.25 L1131.43 351.23 L1131.74 351.46 L1132.06 351.65 L1132.38 351.61 L1132.7 351.33 L1133.01 351.26 L1133.33 351.14 L1133.65 350.98 L1133.97 350.97 L1134.28 351.28 L1134.6 351.17 L1134.92 351.22 L1135.24 351.57 L1135.56 351.32 L1135.87 351.34 L1136.19 351.12 L1136.51 350.97 L1136.83 351.18 L1137.14 351.05 L1137.46 351.31 L1137.78 351.65 L1138.1 351.42 L1138.41 351.08 L1138.73 351.58 L1139.05 351.51 L1139.37 351.46 L1139.68 351.58 L1140 351.48 L1140.32 351.5 L1140.63 351.2 L1140.95 351.64 L1141.27 351.62 L1141.59 351.06 L1141.9 351.48 L1142.22 351.45 L1142.54 351.27 L1142.86 351.32 L1143.17 351.29 L1143.49 351.6 L1143.81 351.3 L1144.13 351.53 L1144.44 351.2 L1144.76 351.57 L1145.08 351.58 L1145.4 351.27 L1145.71 351.35 L1146.03 351.59 L1146.35 351.46 L1146.67 351.29 L1146.98 351.11 L1147.3 351.18 L1147.62 351.44 L1147.94 351.07 L1148.25 351.59 L1148.57 351.14 L1148.89 351.59 L1149.21 351.17 L1149.52 351.62 L1149.84 351.44 L1150.16 351.3 L1150.48 351.31 L1150.79 351.41 L1151.11 351.36 L1151.43 351.17 L1151.75 351.1 L1152.07 351.31 L1152.38 351.6 L1152.7 351.39 L1153.02 351 L1153.34 351.52 L1153.65 351.46 L1153.97 351.59 L1154.29 351.08 L1154.61 351.47 L1154.92 350.99 L1155.24 351.41 L1155.56 351.14 L1155.88 351.11 L1156.19 351.56 L1156.51 351.02 L1156.83 351.32 L1157.14 351.55 L1157.46 351.12 L1157.78 351.1 L1158.1 351.57 L1158.41 351.25 L1158.73 351.45 L1159.05 350.97 L1159.37 351.2 L1159.68 351.07 L1160 351.42 L1160.32 351.01 L1160.64 351.62 L1160.95 350.97 L1161.27 351.46 L1161.59 350.96 L1161.91 351.13 L1162.22 351.52 L1162.54 351.06 L1162.86 351.08 L1163.18 351.43 L1163.49 351.22 L1163.81 350.98 L1164.13 351.64 L1164.45 351.06 L1164.76 350.98 L1165.08 351.19 L1165.4 351.38 L1165.72 351.47 L1166.03 351.03 L1166.35 351.19 L1166.67 350.97 L1166.99 351.26 L1167.31 351.49 L1167.62 351.47 L1167.94 351.58 L1168.26 351.48 L1168.58 351.55 L1168.89 351.44 L1169.21 351.28 L1169.53 351.11 L1169.85 351.41 L1170.16 351.17 L1170.48 351.02 L1170.8 351.26 L1171.12 351.56 L1171.43 351.04 L1171.75 351.36 L1172.07 351.23 L1172.38 351.31 L1172.7 351.05 L1173.02 351.62 L1173.34 351.13 L1173.65 351.37 L1173.97 351.24 L1174.29 350.96 L1174.61 351.34 L1174.92 351.05 L1175.24 350.99 L1175.56 350.97 L1175.88 351.06 L1176.19 351.02 L1176.51 351.39 L1176.83 351.31 L1177.15 351.64 L1177.46 351.6 L1177.78 351.65 L1178.1 351.11 L1178.42 351.26 L1178.73 351.13 L1179.05 351.36 L1179.37 351.39 L1179.69 351.51 L1180 351.45 L1180.32 351.13 L1180.64 351.25 L1180.96 351.32 L1181.27 350.95 L1181.59 350.97 L1181.91 351.24 L1182.23 351.03 L1182.54 351.46 L1182.86 351.12 L1183.18 351.02 L1183.5 351.08 L1183.82 351.11 L1184.13 351.1 L1184.45 351.31 L1184.77 351.28 L1185.09 351.17 L1185.4 351.4 L1185.72 351.1 L1186.04 351.58 L1186.36 351.62 L1186.67 351.46 L1186.99 351.25 L1187.31 351.31 L1187.62 351.36 L1187.94 350.99 L1188.26 351.24 L1188.58 351.32 L1188.89 351.08 L1189.21 351.02 L1189.53 351.51 L1189.85 351.21 L1190.16 351.31 L1190.48 351.6 L1190.8 351.38 L1191.12 351.15 L1191.43 351.64 L1191.75 351.21 L1192.07 350.96 L1192.39 351.43 L1192.7 351.02 L1193.02 351.16 L1193.34 351.54 L1193.66 351.42 L1193.97 350.96 L1194.29 351.27 L1194.61 351.24 L1194.93 351.29 L1195.24 351.1 L1195.56 351.36 L1195.88 351 L1196.2 351.15 L1196.51 351.21 L1196.83 351.6 L1197.15 351 L1197.28 351.48 L1197.33 351.08 L1197.38 351.35 L1197.43 351.22 L1197.47 351.27 L1197.48 351.48 L1197.53 351.23 L1197.58 351.03 L1197.63 351.03 L1197.68 351.01 L1197.73 351.54 L1197.78 351.4 L1197.84 351.62 L1197.89 351.43 L1197.94 350.97 L1197.99 351.41 L1198.04 351.49 L1198.09 351.46 L1198.1 351.3 L1198.14 351.2 L1198.19 351.27 L1198.24 351.51 L1198.29 351.14 L1198.34 351.32 L1198.39 351.28 L1198.42 351.62 L1198.45 351.51 L1198.5 351.6 L1198.55 351.53 L1198.6 351.16 L1198.65 351.11 L1198.7 351.29 L1198.74 351.13 L1198.75 351.25 L1198.8 351.42 L1198.85 351.59 L1198.9 351.36 L1198.95 351.52 L1199 351.02 L1199.05 351.2 L1199.11 351.65 L1199.16 351.05 L1199.21 351.24 L1199.26 350.99 L1199.31 351.01 L1199.36 351.57 L1199.37 351.64 L1199.41 351.4 L1199.46 351.04 L1199.51 351.15 L1199.56 351.11 L1199.61 351.42 L1199.66 351.42 L1199.69 351.25 L1199.72 351.31 L1199.77 351.02 L1199.82 351.32 L1199.87 351.61 L1199.92 351.47 L1199.97 351.01 L1200.01 351.3 L1200.02 351.44 L1200.07 351.12 L1200.12 351.57 L1200.17 351.26 L1200.22 351.43 L1200.27 351.22 L1200.33 351.64 L1200.38 351.49 L1200.43 351.34 L1200.48 351.04 L1200.53 351.25 L1200.58 350.96 L1200.63 351.35 L1200.64 351.55 L1200.68 351.06 L1200.73 351.29 L1200.78 351.27 L1200.83 351.21 L1200.88 351.43 L1200.93 351.58 L1200.96 351.42 L1200.99 351.26 L1201.04 351.6 L1201.09 351.15 L1201.14 351.44 L1201.19 351.38 L1201.24 351.45 L1201.28 351.51 L1201.29 351.07 L1201.34 351.35 L1201.39 351.19 L1201.44 351.37 L1201.49 351.59 L1201.54 351.34 L1201.6 350.9 L1201.65 351.22 L1201.7 351.38 L1201.75 351.5 L1201.8 351.33 L1201.85 351.44 L1201.9 350.88 L1201.91 351.53 L1201.95 351.37 L1202 351.28 L1202.05 351.48 L1202.1 351.46 L1202.15 350.91 L1202.2 351.4 L1202.23 351.36 L1202.26 350.96 L1202.31 351.33 L1202.36 351.21 L1202.41 350.92 L1202.46 351.34 L1202.51 350.86 L1202.55 351.19 L1202.56 351.06 L1202.61 350.92 L1202.66 351.12 L1202.71 351.04 L1202.76 350.84 L1202.81 351.35 L1202.87 350.71 L1202.92 350.64 L1202.97 350.96 L1203.02 351.18 L1203.07 351.03 L1203.12 351.07 L1203.17 350.85 L1203.18 350.98 L1203.22 350.72 L1203.27 350.64 L1203.32 350.77 L1203.37 350.4 L1203.42 350.4 L1203.47 350.83 L1203.5 350.4 L1203.53 350.78 L1203.58 350.75 L1203.63 350.44 L1203.68 350.57 L1203.73 350.59 L1203.78 350.58 L1203.82 350.02 L1203.83 350.03 L1203.88 350.11 L1203.93 350.09 L1203.98 349.89 L1204.03 349.6 L1204.08 349.89 L1204.13 350.08 L1204.19 349.55 L1204.24 349.56 L1204.29 349.41 L1204.34 349.28 L1204.39 349.14 L1204.44 348.99 L1204.45 348.95 L1204.49 348.83 L1204.54 348.66 L1204.59 348.48 L1204.64 348.28 L1204.69 348.07 L1204.74 347.85 L1204.77 347.73 L1204.8 347.61 L1204.85 347.36 L1204.9 347.09 L1204.95 346.8 L1205 346.49 L1205.05 346.16 L1205.09 345.89 L1205.1 345.8 L1205.15 345.42 L1205.2 345.02 L1205.25 344.58 L1205.3 344.12 L1205.35 343.62 L1205.4 343.1 L1205.46 342.53 L1205.51 341.93 L1205.56 341.28 L1205.61 340.59 L1205.66 339.85 L1205.71 339.06 L1205.72 338.85 L1205.76 338.22 L1205.81 337.31 L1205.86 336.35 L1205.91 335.32 L1205.96 334.22 L1206.01 333.04 L1206.04 332.42 L1206.07 331.78 L1206.12 330.44 L1206.17 329 L1206.22 327.46 L1206.27 325.82 L1206.32 324.06 L1206.36 322.66 L1206.37 322.18 L1206.42 320.18 L1206.47 318.03 L1206.52 315.74 L1206.57 313.28 L1206.62 310.66 L1206.67 307.86 L1206.73 304.87 L1206.78 301.67 L1206.83 298.24 L1206.88 294.59 L1206.93 290.68 L1206.98 286.5 L1206.99 285.41 L1207.03 282.03 L1207.08 277.25 L1207.13 272.15 L1207.18 266.69 L1207.23 260.86 L1207.28 254.63 L1207.31 251.35 L1207.34 247.96 L1207.39 240.84 L1207.44 233.22 L1207.49 241.51 L1207.54 249.21 L1207.59 256.37 L1207.63 261.41 L1207.64 263.03 L1207.69 269.22 L1207.74 274.98 L1207.79 280.33 L1207.84 285.31 L1207.89 289.94 L1207.94 294.24 L1208 298.24 L1208.05 301.97 L1208.1 305.43 L1208.15 308.64 L1208.2 311.64 L1208.25 314.42 L1208.26 315.08 L1208.3 317.01 L1208.35 319.41 L1208.4 321.65 L1208.45 323.73 L1208.5 325.66 L1208.55 327.46 L1208.58 328.31 L1208.61 329.13 L1208.66 330.69 L1208.71 332.13 L1208.76 333.48 L1208.81 334.73 L1208.86 335.89 L1208.9 336.71 L1208.91 336.97 L1208.96 337.98 L1209.01 338.91 L1209.06 339.78 L1209.11 340.59 L1209.16 341.34 L1209.21 342.04 L1209.27 342.69 L1209.32 343.29 L1209.37 343.85 L1209.42 344.38 L1209.47 344.86 L1209.52 345.31 L1209.53 345.42 L1209.57 345.73 L1209.62 346.12 L1209.67 346.49 L1209.72 346.82 L1209.77 347.14 L1209.82 347.43 L1209.85 347.57 L1209.88 347.7 L1209.93 347.95 L1209.98 348.19 L1210.03 348.41 L1210.08 348.61 L1210.13 348.8 L1210.17 348.93 L1210.18 348.97 L1210.23 349.14 L1210.28 349.29 L1210.33 349.43 L1210.38 349.56 L1210.43 349.68 L1210.48 349.8 L1210.54 349.9 L1210.59 350 L1210.64 350.01 L1210.69 350.14 L1210.74 350.51 L1210.79 350.19 L1210.8 350.45 L1210.84 350.39 L1210.89 350.49 L1210.94 350.81 L1210.99 350.28 L1211.04 350.85 L1211.09 350.53 L1211.12 350.8 L1211.15 350.92 L1211.2 350.86 L1211.25 350.72 L1211.3 351.07 L1211.35 350.58 L1211.4 350.99 L1211.44 350.84 L1211.45 350.94 L1211.5 351.19 L1211.55 351.18 L1211.6 351.09 L1211.65 350.88 L1211.7 350.85 L1211.75 351.03 L1211.81 350.89 L1211.86 350.93 L1211.91 351.42 L1211.96 350.85 L1212.01 351.35 L1212.06 351.06 L1212.07 351.05 L1212.11 351.03 L1212.16 350.87 L1212.21 351.14 L1212.26 350.95 L1212.31 351.15 L1212.36 351.05 L1212.39 351.48 L1212.42 351.5 L1212.47 351.17 L1212.52 351.32 L1212.57 351.52 L1212.62 351.11 L1212.67 350.95 L1212.71 351.05 L1212.72 351.02 L1212.77 351.37 L1212.82 351.16 L1212.87 351.15 L1212.92 351.46 L1212.97 351.07 L1213.02 351.48 L1213.08 351.36 L1213.13 351.2 L1213.18 351.49 L1213.23 351.16 L1213.28 351.54 L1213.33 351.57 L1213.34 351.28 L1213.38 351.41 L1213.43 351.59 L1213.48 351.45 L1213.53 351.46 L1213.58 351.54 L1213.63 351.59 L1213.66 351.46 L1213.69 351.62 L1213.74 351.14 L1213.79 351.37 L1213.84 351.41 L1213.89 351.2 L1213.94 351.22 L1213.98 351.06 L1213.99 351.61 L1214.04 351.19 L1214.09 351.28 L1214.14 351.57 L1214.19 351.07 L1214.24 351.62 L1214.3 351.03 L1214.35 350.96 L1214.4 351.19 L1214.45 351.2 L1214.5 351.59 L1214.55 351.56 L1214.6 351.48 L1214.61 351.25 L1214.65 351.33 L1214.7 351.11 L1214.75 351.53 L1214.8 351.22 L1214.85 351.15 L1214.9 351.39 L1214.93 351.05 L1214.96 351.17 L1215.01 351.6 L1215.06 351.01 L1215.11 351.05 L1215.16 351.09 L1215.21 351.12 L1215.25 351.24 L1215.26 351.12 L1215.31 351.19 L1215.36 351.12 L1215.41 351.12 L1215.46 351.38 L1215.51 351.18 L1215.57 351.21 L1215.62 351.49 L1215.67 350.99 L1215.72 351.05 L1215.77 351.54 L1215.82 351.25 L1215.87 351.49 L1215.88 351.04 L1215.92 351.32 L1215.97 351.54 L1216.02 351.19 L1216.07 351.49 L1216.12 351.38 L1216.17 351.23 L1216.2 351.65 L1216.23 351.22 L1216.28 351.28 L1216.33 351.38 L1216.38 351.17 L1216.43 351.54 L1216.48 351.37 L1216.52 351.36 L1216.53 351.33 L1216.58 351.64 L1216.63 351.64 L1216.68 351.54 L1216.73 351.27 L1216.78 351.24 L1216.84 351.32 L1216.89 350.98 L1216.94 351.03 L1216.99 351.65 L1217.04 351.04 L1217.09 351.61 L1217.14 351.43 L1217.15 351.59 L1217.19 351 L1217.24 351.16 L1217.29 351.51 L1217.34 350.96 L1217.39 351.02 L1217.44 351.2 L1217.47 351.07 L1217.5 351.05 L1217.55 351.42 L1217.6 351.01 L1217.79 351.63 L1218.11 351.4 L1218.42 350.98 L1218.74 351.58 L1219.06 351.12 L1219.38 351.29 L1219.69 351.34 L1220.01 351.05 L1220.33 351.3 L1220.64 350.99 L1220.96 351.09 L1221.28 351.59 L1221.6 351.53 L1221.91 351.32 L1222.23 351.43 L1222.55 351.56 L1222.87 351.05 L1223.18 351.29 L1223.5 351.04 L1223.82 351.03 L1224.14 351.03 L1224.45 351.1 L1224.77 350.99 L1225.09 351.1 L1225.41 351.22 L1225.72 351.39 L1226.04 351.55 L1226.36 351.58 L1226.68 351.45 L1226.99 351.3 L1227.31 351.59 L1227.63 351.06 L1227.95 351.02 L1228.26 351.52 L1228.58 351.39 L1228.9 351.1 L1229.22 351.21 L1229.53 351.16 L1229.85 351.25 L1230.17 351.25 L1230.49 351.23 L1230.8 351.51 L1231.12 351.52 L1231.44 351.34 L1231.76 351.28 L1232.08 351.15 L1232.39 351.49 L1232.71 351.64 L1233.03 351.11 L1233.35 351.44 L1233.66 351.44 L1233.98 351.41 L1234.3 350.97 L1234.62 351.34 L1234.93 351.09 L1235.25 351.09 L1235.57 351.36 L1235.88 351.4 L1236.2 351.39 L1236.52 351.47 L1236.84 351.44 L1237.15 351.28 L1237.47 350.98 L1237.79 351.49 L1238.11 351.53 L1238.42 351.53 L1238.74 351.37 L1239.06 350.98 L1239.38 351.09 L1239.69 351.03 L1240.01 351.4 L1240.33 351.33 L1240.65 351.08 L1240.96 351.62 L1241.28 351.63 L1241.6 351.58 L1241.92 351.27 L1242.23 351.15 L1242.55 351.1 L1242.87 351.53 L1243.19 351.44 L1243.5 351.14 L1243.82 351.58 L1244.14 351.35 L1244.46 351.24 L1244.77 351.24 L1245.09 351.45 L1245.41 351.27 L1245.73 351.41 L1246.05 351.04 L1246.36 351.44 L1246.68 351.14 L1247 351.59 L1247.32 351.1 L1247.63 351.18 L1247.95 351.33 L1248.27 351.22 L1248.59 351.32 L1248.9 351.6 L1249.22 351.09 L1249.54 351.49 L1249.86 351.44 L1250.17 351.5 L1250.49 351.26 L1250.81 351.27 L1251.12 351.19 L1251.44 351.28 L1251.76 351.13 L1252.08 351.08 L1252.39 351.28 L1252.71 351.08 L1253.03 351.28 L1253.35 351.35 L1253.66 351.17 L1253.98 351.07 L1254.3 351.37 L1254.62 351.55 L1254.93 351.11 L1255.25 351.38 L1255.57 351.41 L1255.89 351.57 L1256.2 351.43 L1256.52 351.17 L1256.84 351.1 L1257.16 351.54 L1257.47 351.16 L1257.79 350.96 L1258.11 351.56 L1258.43 351.09 L1258.74 351.17 L1259.06 351.17 L1259.38 351.13 L1259.7 351.46 L1260.01 351.19 L1260.33 351.26 L1260.65 351.24 L1260.97 351.53 L1261.28 350.96 L1261.6 351.36 L1261.92 351.04 L1262.24 351.06 L1262.55 351.37 L1262.87 351.21 L1263.19 351 L1263.51 351.36 L1263.83 351.59 L1264.14 351.4 L1264.46 351.3 L1264.78 351.51 L1265.1 351.59 L1265.41 351.06 L1265.73 351.16 L1266.05 351.63 L1266.37 351.6 L1266.68 351.09 L1267 351.44 L1267.32 351.56 L1267.63 351.36 L1267.95 351.44 L1268.27 351.32 L1268.59 351.11 L1268.9 351.1 L1269.22 350.99 L1269.54 351.42 L1269.86 351.05 L1270.17 351.39 L1270.49 351.22 L1270.81 351.26 L1271.13 351.63 L1271.44 351.22 L1271.76 351.28 L1272.08 351.22 L1272.4 351.1 L1272.71 351.11 L1273.03 351.32 L1273.35 351.52 L1273.67 351.01 L1273.98 351.61 L1274.3 351.42 L1274.62 350.99 L1274.94 351.44 L1275.25 351.23 L1275.57 351.31 L1275.89 351.02 L1276.21 351.31 L1276.52 351.31 L1276.84 351.5 L1277.16 351.36 L1277.48 351.44 L1277.8 351.46 L1278.11 351.1 L1278.43 350.97 L1278.75 351.28 L1279.07 351.04 L1279.38 351.05 L1279.7 351.18 L1280.02 351.33 L1280.34 351.38 L1280.65 351.4 L1280.97 351.61 L1281.29 351.02 L1281.61 351.34 L1281.92 351.01 L1282.24 351.42 L1282.56 351.26 L1282.88 351.05 L1283.19 351.17 L1283.51 351.41 L1283.83 351.28 L1284.14 351.61 L1284.46 351.2 L1284.78 351.19 L1285.1 351.6 L1285.41 351.37 L1285.73 351.02 L1286.05 351.5" stroke="#e8202b" stroke-width="3.2" fill="none" stroke-linejoin="round" stroke-linecap="round"/>
<path d="M1127.3 351.12 L1127.74 351.33 L1128.19 351.21 L1128.63 351.37 L1129.08 351.39 L1129.52 351 L1129.97 350.96 L1130.41 351.54 L1130.86 351.13 L1131.3 351.11 L1131.74 351.65 L1132.19 351.28 L1132.63 351.54 L1133.08 351.28 L1133.52 351.4 L1133.97 351.06 L1134.41 351.39 L1134.86 351.56 L1135.3 351.32 L1135.75 351.47 L1136.19 351.42 L1136.63 350.99 L1137.08 351.48 L1137.52 351.36 L1137.97 351.16 L1138.41 350.97 L1138.86 351.56 L1139.3 351.28 L1139.75 351.45 L1140.19 351.57 L1140.63 351.45 L1141.08 351.59 L1141.52 351.23 L1141.97 351.51 L1142.41 351.26 L1142.86 351.6 L1143.3 351.57 L1143.75 351.02 L1144.19 351.05 L1144.64 351.1 L1145.08 351.63 L1145.52 351.26 L1145.97 351.39 L1146.41 351.16 L1146.86 351.31 L1147.3 351.22 L1147.75 351.2 L1148.19 351.36 L1148.64 351.36 L1149.08 351.58 L1149.52 351.43 L1149.97 351.6 L1150.41 351.55 L1150.86 351.64 L1151.3 351.42 L1151.75 351.06 L1152.19 351.55 L1152.64 351.63 L1153.08 351.58 L1153.53 351.35 L1153.97 351.45 L1154.41 351.1 L1154.86 351.53 L1155.3 351.35 L1155.75 351.15 L1156.19 350.99 L1156.64 351.55 L1157.08 351.64 L1157.53 351.01 L1157.97 351.51 L1158.41 351.24 L1158.86 351.06 L1159.3 351.16 L1159.75 351.49 L1160.19 351.56 L1160.64 350.98 L1161.08 351.38 L1161.53 350.98 L1161.97 351.45 L1162.42 351.18 L1162.86 351.57 L1163.3 351.64 L1163.75 351.3 L1164.19 351.65 L1164.64 351.17 L1165.08 351 L1165.53 351.37 L1165.97 350.97 L1166.42 351.09 L1166.86 351.24 L1167.31 351.38 L1167.75 351.06 L1168.19 350.98 L1168.64 351.56 L1169.08 351.17 L1169.53 351.62 L1169.97 351.58 L1170.42 351.21 L1170.86 351.27 L1171.31 351.31 L1171.75 351.4 L1172.19 351.37 L1172.64 351.34 L1173.08 351.38 L1173.53 351.61 L1173.97 351.3 L1174.42 351.25 L1174.86 351.45 L1175.31 351.12 L1175.75 351.16 L1176.19 351.63 L1176.64 351.31 L1177.08 351.33 L1177.53 350.96 L1177.97 351.24 L1178.42 351.36 L1178.86 350.96 L1179.31 351.38 L1179.75 351.39 L1180.2 350.99 L1180.64 351.39 L1181.08 351.28 L1181.53 351.43 L1181.97 351.2 L1182.42 351.44 L1182.86 351.47 L1183.31 350.97 L1183.75 350.99 L1184.2 351.42 L1184.64 351.62 L1185.09 351.13 L1185.53 351.27 L1185.97 351.36 L1186.42 351.17 L1186.86 351.2 L1187.31 351.17 L1187.75 351.21 L1188.2 351.37 L1188.64 351.16 L1189.09 351.21 L1189.53 351.49 L1189.97 350.97 L1190.42 351.35 L1190.86 351.46 L1191.31 351.17 L1191.75 351.11 L1192.2 351.51 L1192.64 351.12 L1193.09 351.08 L1193.53 351.25 L1193.97 351.44 L1194.42 351.02 L1194.86 351.18 L1195.31 351.18 L1195.75 351.53 L1196.2 351.26 L1196.64 351.55 L1197.09 351.07 L1197.53 351.19 L1197.98 351.41 L1198.42 351.57 L1198.86 351.27 L1199.31 351.11 L1199.75 351.03 L1200.2 351.32 L1200.64 351.08 L1201.09 351.51 L1201.53 351.54 L1201.98 351.08 L1202.42 351.15 L1202.87 351.52 L1203.31 351.4 L1203.75 351.51 L1204.2 351.19 L1204.64 351.04 L1205.09 351.15 L1205.53 351.51 L1205.98 351.14 L1206.42 351.19 L1206.87 351.24 L1207.31 351.24 L1207.75 351.24 L1208.2 351.59 L1208.64 351.06 L1209.09 350.95 L1209.53 351.61 L1209.98 351.57 L1210.42 351.64 L1210.87 351.25 L1211.31 351.62 L1211.75 351.6 L1212.2 351.11 L1212.64 351.47 L1213.09 351.54 L1213.53 351.41 L1213.98 351.31 L1214.42 351.15 L1214.87 351.19 L1215.31 351.11 L1215.76 351 L1216.2 351.36 L1216.64 351.15 L1217.09 351.52 L1217.53 350.98 L1217.98 351.58 L1218.42 351.44 L1218.87 351.6 L1219.31 351.58 L1219.76 351.58 L1220.2 351.35 L1220.64 350.96 L1221.09 351.47 L1221.53 351.07 L1221.98 351.16 L1222.42 351.41 L1222.87 351.32 L1223.31 351.24 L1223.76 351.61 L1224.2 351.38 L1224.65 351.19 L1225.09 351.13 L1225.53 351.55 L1225.98 351.28 L1226.42 351.5 L1226.87 351.2 L1227.31 351.09 L1227.76 351.32 L1228.2 351.52 L1228.65 351.07 L1229.09 351.5 L1229.53 351.6 L1229.98 351.51 L1230.42 351.53 L1230.87 350.96 L1231.31 351.39 L1231.76 351.55 L1232.2 350.98 L1232.65 351.14 L1233.09 351.14 L1233.54 351.32 L1233.98 351.25 L1234.42 351.28 L1234.87 351.49 L1235.31 350.95 L1235.76 350.99 L1236.2 351.04 L1236.65 351.04 L1237.09 351 L1237.54 351.63 L1237.98 351.55 L1238.42 351.01 L1238.87 351.3 L1239.31 351.16 L1239.76 351.15 L1240.2 351.16 L1240.65 351.32 L1241.09 351.21 L1241.54 350.94 L1241.98 350.65 L1242.43 350.5 L1242.87 350.03 L1243.31 349.93 L1243.5 349.85 L1243.56 349.56 L1243.61 349.3 L1243.66 349.31 L1243.71 349.39 L1243.76 349.5 L1243.81 349.56 L1243.86 349.22 L1243.91 349.46 L1243.96 349.27 L1244.01 349.08 L1244.06 348.98 L1244.11 349 L1244.17 349.08 L1244.2 348.84 L1244.22 349.01 L1244.27 348.78 L1244.32 348.57 L1244.37 348.71 L1244.42 348.75 L1244.47 348.25 L1244.52 348.42 L1244.57 348.36 L1244.62 348.6 L1244.65 348.61 L1244.67 348.18 L1244.72 348.47 L1244.77 348.33 L1244.83 347.88 L1244.88 347.95 L1244.93 347.63 L1244.98 348.04 L1245.03 347.85 L1245.08 347.93 L1245.09 347.84 L1245.13 347.7 L1245.18 347.66 L1245.23 347.46 L1245.28 347.05 L1245.33 347.3 L1245.38 346.8 L1245.44 346.81 L1245.49 347.16 L1245.54 346.56 L1245.59 346.5 L1245.64 346.41 L1245.69 346.85 L1245.74 346.26 L1245.79 346.05 L1245.84 346.52 L1245.89 345.91 L1245.94 346.31 L1245.98 346.11 L1245.99 346.2 L1246.05 346.17 L1246.1 345.8 L1246.15 345.85 L1246.2 345.2 L1246.25 345.6 L1246.3 345.3 L1246.35 345.33 L1246.4 344.79 L1246.43 345.18 L1246.45 345.25 L1246.5 344.52 L1246.55 344.59 L1246.6 344.64 L1246.65 344.71 L1246.71 344.19 L1246.76 344.03 L1246.81 343.96 L1246.86 344.11 L1246.87 344.18 L1246.91 343.84 L1246.96 343.71 L1247.01 343.63 L1247.06 343.49 L1247.11 343.43 L1247.16 343.1 L1247.21 343.3 L1247.26 343.53 L1247.32 343.05 L1247.37 343.2 L1247.42 342.71 L1247.47 343 L1247.52 342.98 L1247.57 342.85 L1247.62 342.68 L1247.67 342.6 L1247.72 342.66 L1247.76 342.8 L1247.77 342.27 L1247.82 342.19 L1247.87 342.61 L1247.92 342.69 L1247.98 342.39 L1248.03 342.32 L1248.08 342.5 L1248.13 342.11 L1248.18 342.17 L1248.2 342.12 L1248.23 342.39 L1248.28 342.21 L1248.33 342.16 L1248.38 342.49 L1248.43 342.69 L1248.48 342.25 L1248.53 342.56 L1248.59 342.39 L1248.64 342.72 L1248.65 342.54 L1248.69 342.34 L1248.74 342.34 L1248.79 342.23 L1248.84 342.58 L1248.89 342.54 L1248.94 342.42 L1248.99 342.58 L1249.04 342.57 L1249.09 342.9 L1249.14 342.48 L1249.19 343.08 L1249.25 342.72 L1249.3 342.8 L1249.35 342.7 L1249.4 342.93 L1249.45 342.9 L1249.5 342.67 L1249.54 342.59 L1249.55 342.74 L1249.6 342.78 L1249.65 342.4 L1249.7 342.55 L1249.75 342.62 L1249.8 342.18 L1249.86 341.9 L1249.91 341.79 L1249.96 341.99 L1249.98 341.9 L1250.01 342.02 L1250.06 341.8 L1250.11 341.21 L1250.16 341 L1250.21 340.86 L1250.26 340.62 L1250.31 340.78 L1250.36 340.68 L1250.41 340.5 L1250.43 339.99 L1250.46 340.25 L1250.52 339.77 L1250.57 339.54 L1250.62 339.3 L1250.67 339.06 L1250.72 338.82 L1250.77 338.58 L1250.82 338.33 L1250.87 338.08 L1250.92 337.83 L1250.97 337.58 L1251.02 337.33 L1251.07 337.07 L1251.12 336.82 L1251.18 336.56 L1251.23 336.3 L1251.28 336.04 L1251.32 335.84 L1251.33 335.77 L1251.38 335.5 L1251.43 335.22 L1251.48 334.93 L1251.53 334.63 L1251.58 334.31 L1251.63 333.98 L1251.68 333.62 L1251.73 333.25 L1251.76 333.05 L1251.79 332.84 L1251.84 332.4 L1251.89 331.92 L1251.94 331.4 L1251.99 330.83 L1252.04 330.21 L1252.09 329.52 L1252.14 328.77 L1252.19 327.94 L1252.2 327.71 L1252.24 327.02 L1252.29 326.01 L1252.34 324.89 L1252.39 323.67 L1252.45 322.31 L1252.5 320.82 L1252.55 319.18 L1252.6 317.38 L1252.65 315.4 L1252.7 313.23 L1252.75 310.84 L1252.8 308.23 L1252.85 305.37 L1252.9 302.24 L1252.95 298.82 L1253 295.08 L1253.06 291 L1253.09 287.7 L1253.11 286.55 L1253.16 281.7 L1253.21 276.41 L1253.26 270.66 L1253.31 264.4 L1253.36 257.59 L1253.41 250.18 L1253.46 242.14 L1253.51 233.39 L1253.54 228.75 L1253.56 223.9 L1253.61 213.59 L1253.66 202.4 L1253.72 215.07 L1253.77 226.66 L1253.82 237.27 L1253.87 246.98 L1253.92 255.86 L1253.97 263.99 L1253.98 265.91 L1254.02 271.42 L1254.07 278.23 L1254.12 284.46 L1254.17 290.15 L1254.22 295.36 L1254.27 300.13 L1254.33 304.5 L1254.38 308.49 L1254.43 312.14 L1254.48 315.48 L1254.53 318.53 L1254.58 321.33 L1254.63 323.89 L1254.68 326.22 L1254.73 328.36 L1254.78 330.32 L1254.83 332.11 L1254.87 333.35 L1254.88 333.75 L1254.93 335.24 L1254.99 336.61 L1255.04 337.87 L1255.09 339.01 L1255.14 340.06 L1255.19 341.02 L1255.24 341.9 L1255.29 342.7 L1255.32 343.07 L1255.34 343.43 L1255.39 344.1 L1255.44 344.72 L1255.49 345.28 L1255.54 345.79 L1255.6 346.26 L1255.65 346.69 L1255.7 347.08 L1255.75 347.44 L1255.76 347.53 L1255.8 347.77 L1255.85 348.07 L1255.9 348.35 L1255.95 348.6 L1256 348.83 L1256.05 349.04 L1256.1 349.23 L1256.15 349.41 L1256.2 349.57 L1256.26 349.72 L1256.31 349.85 L1256.36 349.97 L1256.41 350.09 L1256.46 350.19 L1256.51 350.28 L1256.56 350.37 L1256.61 350.45 L1256.65 350.5 L1256.66 350.52 L1256.71 350.59 L1256.76 350.65 L1256.81 350.7 L1256.87 350.62 L1256.92 350.75 L1256.97 351 L1257.02 350.59 L1257.07 350.63 L1257.09 351.17 L1257.12 350.8 L1257.17 350.88 L1257.22 351.06 L1257.27 351.16 L1257.32 350.71 L1257.37 350.96 L1257.42 351.05 L1257.47 351.1 L1257.53 350.93 L1257.54 351.19 L1257.58 351.46 L1257.63 351.08 L1257.68 351.2 L1257.73 350.91 L1257.78 351.03 L1257.83 351.32 L1257.88 350.94 L1257.93 351.49 L1257.98 351.51 L1258.03 350.95 L1258.08 351.54 L1258.14 351.15 L1258.19 351.44 L1258.24 351.43 L1258.29 351.11 L1258.34 351.38 L1258.39 351.37 L1258.43 351.48 L1258.44 351.1 L1258.49 351.45 L1258.54 351.59 L1258.59 351.39 L1258.64 351.3 L1258.69 351.01 L1258.74 351.28 L1258.8 351.18 L1258.85 351.44 L1258.87 351.41 L1258.9 351.33 L1258.95 351.06 L1259 351.39 L1259.05 351.38 L1259.1 351.06 L1259.15 351.56 L1259.2 351.4 L1259.25 351.03 L1259.3 351.59 L1259.32 351.04 L1259.35 351.18 L1259.41 351.45 L1259.46 351.36 L1259.51 351.33 L1259.56 351.4 L1259.61 351.27 L1259.66 351.16 L1259.71 351.07 L1259.76 350.99 L1259.81 351.45 L1259.86 351.48 L1259.91 351.33 L1259.96 351.47 L1260.01 351.2 L1260.07 351.13 L1260.12 351.22 L1260.17 351.56 L1260.21 350.98 L1260.22 351.3 L1260.27 351.12 L1260.32 351.49 L1260.37 351.2 L1260.42 351.18 L1260.47 351.23 L1260.52 351.33 L1260.57 351.49 L1260.62 351.2 L1260.65 351.54 L1260.68 351.03 L1260.73 351.14 L1260.78 351.02 L1260.83 351.03 L1260.88 351.49 L1260.93 351.46 L1260.98 351.08 L1261.03 351.08 L1261.08 351.24 L1261.09 351.47 L1261.13 351.52 L1261.18 351.47 L1261.23 351.36 L1261.28 351.05 L1261.34 351.23 L1261.39 351.09 L1261.44 351.32 L1261.49 351.35 L1261.54 351.09 L1261.59 351.12 L1261.64 351.5 L1261.69 350.97 L1261.74 351.51 L1261.79 351.57 L1261.84 351.61 L1261.89 351.22 L1261.95 351.34 L1261.98 351.36 L1262 351.39 L1262.05 351.63 L1262.1 351.43 L1262.15 351.16 L1262.2 351.55 L1262.25 351.29 L1262.3 351.37 L1262.35 351.46 L1262.4 350.95 L1262.43 351.49 L1262.45 351.41 L1262.5 351.29 L1262.55 351.32 L1262.61 351.27 L1262.66 351.09 L1262.71 351.32 L1262.76 350.98 L1262.81 351.3 L1262.86 351.4 L1262.87 351.26 L1262.91 351.35 L1262.96 351.62 L1263.01 351.57 L1263.06 351.04 L1263.11 351.5 L1263.16 351.39 L1263.22 350.99 L1263.27 351.2 L1263.32 351.11 L1263.37 351 L1263.42 351.33 L1263.47 351.6 L1263.52 351.18 L1263.57 351.56 L1263.62 351.44 L1263.67 351.04 L1263.72 351.55 L1263.76 351.37 L1263.77 351.6 L1263.83 351.45 L1264.21 351.47 L1264.65 351.19 L1265.1 351.51 L1265.54 351.6 L1265.98 351.55 L1266.43 351.26 L1266.87 351.48 L1267.32 351.29 L1267.76 351.03 L1268.21 350.98 L1268.65 351 L1269.1 351.09 L1269.54 351.06 L1269.98 351.3 L1270.43 351.44 L1270.87 351.33 L1271.32 351.25 L1271.76 351.4 L1272.21 351.16 L1272.65 351.28 L1273.1 351.48 L1273.54 351.23 L1273.98 351.08 L1274.43 351.58 L1274.87 351.45 L1275.32 351.21 L1275.76 351.21 L1276.21 351.32 L1276.65 351.37 L1277.1 351.11 L1277.54 350.95 L1277.99 351.1 L1278.43 351.5 L1278.87 351.05 L1279.32 351.27 L1279.76 351.09 L1280.21 351.1 L1280.65 351.07 L1281.1 351.23 L1281.54 351.07 L1281.99 350.97 L1282.43 351.03 L1282.88 351.07 L1283.32 351.29 L1283.76 350.99 L1284.21 350.97 L1284.65 351.26 L1285.1 351.24 L1285.54 351.44 L1285.99 350.99 L1286.43 351.23 L1286.88 351.23 L1287.32 350.97 L1287.76 351.63 L1288.21 351.1 L1288.65 351.02 L1289.1 351.28 L1289.54 351.07 L1289.99 351.39 L1290.43 351.19 L1290.88 351.04 L1291.32 350.99 L1291.76 351.46 L1292.21 351.14 L1292.65 351.5 L1293.1 351.28 L1293.54 351.6 L1293.99 351.16 L1294.43 351.12 L1294.88 351.14 L1295.32 351.52 L1295.77 351.39 L1296.21 351.19 L1296.65 351.02 L1297.1 351.43 L1297.54 351.63 L1297.99 351.36 L1298.43 350.95 L1298.88 350.97 L1299.32 351.01 L1299.77 351.07 L1300.21 350.98 L1300.65 350.99 L1301.1 351.41 L1301.54 351.58 L1301.99 351.09 L1302.43 351.63 L1302.88 351.28 L1303.32 351.51 L1303.77 351.59 L1304.21 351.61 L1304.66 350.97 L1305.1 351.16 L1305.54 351.37 L1305.99 351.61 L1306.43 351.01 L1306.88 351.16 L1307.32 351.54 L1307.77 351.03 L1308.21 351.22 L1308.66 351.18 L1309.1 351.43 L1309.55 351.6 L1309.99 351.07 L1310.43 351.47 L1310.88 351.46 L1311.32 351.53 L1311.77 351.34 L1312.21 351.6 L1312.66 351.2 L1313.1 351.24 L1313.55 351.11 L1313.99 351.5 L1314.43 351.29 L1314.88 351.14 L1315.32 351.07 L1315.77 351.45 L1316.21 351.37 L1316.66 351.45 L1317.1 351.22 L1317.55 351.29 L1317.99 351.06 L1318.43 351.45 L1318.88 350.97 L1319.32 351.28 L1319.77 351.48 L1320.21 351.42 L1320.66 351.02 L1321.1 351.12 L1321.55 351.54 L1321.99 351.4 L1322.44 351.56 L1322.88 351.56 L1323.32 351.26 L1323.77 351.58 L1324.21 351.46 L1324.66 351.18 L1325.1 351.21 L1325.55 351 L1325.99 351.23 L1326.44 351.62 L1326.88 351.02 L1327.33 351.35 L1327.77 351.03 L1328.21 351.01 L1328.66 351.4 L1329.1 351.12 L1329.55 350.98 L1329.99 351.06 L1330.44 351.4 L1330.88 351.36 L1331.33 350.96 L1331.77 351.11 L1332.21 351.63 L1332.66 351.1 L1333.1 351.34 L1333.55 351.24 L1333.99 351.5 L1334.44 351.37 L1334.88 351.5 L1335.33 351.32 L1335.77 351.08 L1336.21 351.07 L1336.66 351.01 L1337.1 351.53 L1337.55 351.03 L1337.99 350.97 L1338.44 351.63 L1338.88 351.09 L1339.33 351.58 L1339.77 351.01 L1340.22 351.28 L1340.66 351.11 L1341.1 351.53 L1341.55 351.38 L1341.99 351.4 L1342.44 351.48 L1342.88 351.56 L1343.33 351.19 L1343.77 351.37 L1344.22 351.26 L1344.66 351.03 L1345.11 351.53 L1345.55 351.37 L1345.99 351.52 L1346.44 351.09 L1346.88 351.33 L1347.33 351.27 L1347.77 351.46 L1348.22 351 L1348.66 351.19 L1349.11 351.29 L1349.55 351" stroke="#1f48a0" stroke-width="3.2" fill="none" stroke-linejoin="round" stroke-linecap="round"/>
<path d="M1127.3 351.12 L1127.87 351.02 L1128.44 351.23 L1129.01 351.06 L1129.59 351 L1130.16 351.23 L1130.73 351.59 L1131.3 351.51 L1131.87 351.49 L1132.44 351.11 L1133.01 351.33 L1133.59 351.14 L1134.16 351.07 L1134.73 351.02 L1135.3 351.1 L1135.87 351.6 L1136.44 351.53 L1137.02 351.51 L1137.59 351.51 L1138.16 351.09 L1138.73 351.17 L1139.3 351.39 L1139.87 351.46 L1140.44 351.55 L1141.02 351.57 L1141.59 351.01 L1142.16 351.37 L1142.73 351.42 L1143.3 351.3 L1143.87 351.07 L1144.44 351.28 L1145.02 351.01 L1145.59 351.6 L1146.16 351.56 L1146.73 351.33 L1147.3 351.16 L1147.87 351.59 L1148.45 351.35 L1149.02 351.57 L1149.59 351.54 L1150.16 351.31 L1150.73 351.24 L1151.3 351.37 L1151.87 351.25 L1152.45 351.06 L1153.02 351.16 L1153.59 351.52 L1154.16 350.98 L1154.73 350.98 L1155.3 351.39 L1155.88 351.15 L1156.45 351.32 L1157.02 351.28 L1157.59 351.19 L1158.16 351.65 L1158.73 351.09 L1159.3 351.24 L1159.88 351.09 L1160.45 351.39 L1161.02 351.14 L1161.59 351.2 L1162.16 351.47 L1162.73 351.17 L1163.3 351.34 L1163.88 351.58 L1164.45 351.02 L1165.02 350.99 L1165.59 351.11 L1166.16 351.49 L1166.73 351.38 L1167.31 351.12 L1167.88 351.18 L1168.45 351.07 L1169.02 351.27 L1169.59 350.98 L1170.16 351.44 L1170.73 351.58 L1171.31 351.62 L1171.88 351.46 L1172.45 351.62 L1173.02 350.96 L1173.59 351.15 L1174.16 351.63 L1174.73 351.49 L1175.31 351.24 L1175.88 351.61 L1176.45 351.38 L1177.02 351.52 L1177.59 351.16 L1178.16 351.08 L1178.73 351.26 L1179.31 351.05 L1179.88 351.22 L1180.45 351.62 L1181.02 351.18 L1181.59 350.96 L1182.16 350.98 L1182.74 351.07 L1183.31 351.5 L1183.88 351.2 L1184.45 351.15 L1185.02 351.02 L1185.59 351.64 L1186.16 351.25 L1186.74 351.1 L1187.31 350.99 L1187.88 350.99 L1188.45 351.07 L1189.02 351.42 L1189.59 351.05 L1190.16 350.98 L1190.74 351.29 L1191.31 351.12 L1191.88 351.65 L1192.45 351.04 L1193.02 351.32 L1193.59 351.49 L1194.17 351.24 L1194.74 351.64 L1195.31 351.28 L1195.88 351.12 L1196.45 351.24 L1197.02 350.98 L1197.59 351.24 L1198.17 351.12 L1198.74 351.57 L1199.31 351.53 L1199.88 351.3 L1200.45 350.97 L1201.02 351.13 L1201.6 351.12 L1202.17 351.1 L1202.74 351.11 L1203.31 351.56 L1203.88 351.05 L1204.45 350.99 L1205.02 351.6 L1205.6 351.35 L1206.17 351.64 L1206.74 351.23 L1207.31 351.58 L1207.88 351.41 L1208.45 351.5 L1209.02 351.47 L1209.6 351.3 L1210.17 351.02 L1210.74 351.1 L1211.31 351.56 L1211.88 351.58 L1212.45 351.6 L1213.02 351.19 L1213.6 351.41 L1214.17 351.51 L1214.74 351.4 L1215.31 351.52 L1215.88 351.32 L1216.45 351.41 L1217.03 351.43 L1217.6 351.14 L1218.17 351.6 L1218.74 351.62 L1219.31 351 L1219.88 351.63 L1220.45 351.62 L1221.03 351.42 L1221.6 350.98 L1222.17 351.58 L1222.74 351.04 L1223.31 351.63 L1223.88 351.42 L1224.45 350.99 L1225.03 351.07 L1225.6 351.39 L1226.17 351.35 L1226.74 351.47 L1227.31 351.6 L1227.88 351.1 L1228.46 350.95 L1229.03 351.6 L1229.6 350.96 L1230.17 351.56 L1230.74 351.03 L1231.31 351.52 L1231.88 351.5 L1232.46 351.56 L1233.03 351.34 L1233.6 351.57 L1234.17 351.09 L1234.74 351.42 L1235.31 351.18 L1235.88 351.57 L1236.46 351.49 L1237.03 351.28 L1237.6 351.32 L1238.17 350.97 L1238.74 350.97 L1239.31 351.37 L1239.89 351.29 L1240.46 351.56 L1241.03 351.38 L1241.6 351.05 L1242.17 351.2 L1242.74 351.49 L1243.31 351.32 L1243.89 350.96 L1244.46 351.54 L1245.03 351.53 L1245.6 351.01 L1246.17 351.33 L1246.74 351.22 L1247.32 351.5 L1247.89 351.17 L1248.46 351.11 L1249.03 351.29 L1249.6 351.63 L1250.17 351.02 L1250.74 351.03 L1251.32 351.38 L1251.89 351.57 L1252.46 351.31 L1253.03 351.25 L1253.6 351.55 L1254.17 351.49 L1254.74 351 L1255.32 351.57 L1255.89 351.09 L1256.46 351.16 L1257.03 351.54 L1257.6 351.25 L1258.17 351.51 L1258.74 351.07 L1259.32 351.56 L1259.89 351.07 L1260.46 351.05 L1261.03 351.3 L1261.6 351.19 L1262.17 351.33 L1262.75 351.58 L1263.32 351.45 L1263.89 350.95 L1264.46 351.17 L1265.03 351.33 L1265.6 351.29 L1266.17 351.45 L1266.75 351.29 L1267.32 351 L1267.89 351.12 L1268.46 351.54 L1269.03 351.2 L1269.6 351.49 L1270.17 351.64 L1270.75 351.39 L1271.32 351.42 L1271.89 351.38 L1272.46 351.17 L1273.03 351.59 L1273.6 351.28 L1274.18 351.59 L1274.75 351.16 L1275.32 351.56 L1275.89 351.5 L1276.46 351.38 L1277.03 351.26 L1277.6 351.05 L1278.18 351.49 L1278.75 351.2 L1279.32 351.41 L1279.89 351.04 L1280.46 351.01 L1281.03 351.05 L1281.61 351.52 L1282.18 351.07 L1282.75 351.58 L1283.32 351.21 L1283.89 351.35 L1284.46 351.18 L1285.03 351.36 L1285.61 350.98 L1286.18 351.18 L1286.75 351.52 L1287.32 350.95 L1287.89 351.23 L1288.46 350.92 L1289.03 350.8 L1289.61 350.47 L1290.18 350.31 L1290.75 350.78 L1291.32 350.48 L1291.89 350.22 L1292.08 350.14 L1292.13 350.22 L1292.18 349.64 L1292.23 349.91 L1292.29 349.83 L1292.34 349.86 L1292.39 350.09 L1292.44 349.95 L1292.46 350.08 L1292.49 349.47 L1292.54 349.83 L1292.59 349.82 L1292.64 349.85 L1292.69 349.73 L1292.74 349.86 L1292.79 349.47 L1292.84 349.88 L1292.9 349.49 L1292.95 349.61 L1293 349.79 L1293.03 349.64 L1293.05 349.36 L1293.1 349.28 L1293.15 349.33 L1293.2 349.51 L1293.25 349.75 L1293.3 349.66 L1293.35 349.29 L1293.4 349.27 L1293.45 349.54 L1293.5 349.14 L1293.56 349.21 L1293.61 348.91 L1293.66 349.01 L1293.71 349.24 L1293.76 349.32 L1293.81 349.25 L1293.86 349.05 L1293.91 349.44 L1293.96 349.19 L1294.01 348.85 L1294.06 348.77 L1294.11 349.38 L1294.17 349.37 L1294.18 349.32 L1294.22 349.09 L1294.27 348.86 L1294.32 348.69 L1294.37 348.79 L1294.42 348.75 L1294.47 349.23 L1294.52 349.19 L1294.57 349.09 L1294.62 348.63 L1294.67 348.68 L1294.72 348.71 L1294.75 349.16 L1294.77 348.6 L1294.83 349.02 L1294.88 348.93 L1294.93 348.83 L1294.98 349.1 L1295.03 348.6 L1295.08 348.77 L1295.13 348.51 L1295.18 348.45 L1295.23 348.4 L1295.28 348.58 L1295.32 348.44 L1295.33 348.4 L1295.38 349.04 L1295.44 348.54 L1295.49 348.95 L1295.54 348.81 L1295.59 348.82 L1295.64 348.76 L1295.69 348.96 L1295.74 348.9 L1295.79 348.78 L1295.84 348.67 L1295.89 348.76 L1295.94 348.77 L1295.99 348.65 L1296.04 348.61 L1296.1 348.36 L1296.15 348.84 L1296.2 348.58 L1296.25 348.29 L1296.3 348.36 L1296.35 348.85 L1296.4 348.41 L1296.45 348.51 L1296.46 348.71 L1296.5 348.83 L1296.55 348.46 L1296.6 348.5 L1296.65 348.52 L1296.71 348.24 L1296.76 348.84 L1296.81 348.23 L1296.86 348.89 L1296.91 348.33 L1296.96 348.33 L1297.01 348.81 L1297.04 348.79 L1297.06 348.38 L1297.11 348.6 L1297.16 348.54 L1297.21 348.71 L1297.26 348.33 L1297.31 348.78 L1297.37 348.89 L1297.42 348.68 L1297.47 348.83 L1297.52 348.83 L1297.57 348.43 L1297.61 348.75 L1297.62 348.74 L1297.67 348.56 L1297.72 348.21 L1297.77 348.55 L1297.82 348.74 L1297.87 348.3 L1297.92 348.52 L1297.98 348.67 L1298.03 348.44 L1298.08 348.02 L1298.13 348.41 L1298.18 348.11 L1298.23 348.5 L1298.28 348.32 L1298.33 348.02 L1298.38 348.39 L1298.43 348.14 L1298.48 347.88 L1298.53 348.17 L1298.58 348.13 L1298.64 348.06 L1298.69 347.97 L1298.74 347.72 L1298.75 347.72 L1298.79 347.58 L1298.84 347.41 L1298.89 347.62 L1298.94 347.04 L1298.99 346.71 L1299.04 347 L1299.09 346.68 L1299.14 346.5 L1299.19 346.31 L1299.25 346.09 L1299.3 345.86 L1299.32 345.74 L1299.35 345.61 L1299.4 345.35 L1299.45 345.05 L1299.5 344.74 L1299.55 344.4 L1299.6 344.03 L1299.65 343.64 L1299.7 343.21 L1299.75 342.74 L1299.8 342.25 L1299.85 341.71 L1299.89 341.28 L1299.91 341.13 L1299.96 340.5 L1300.01 339.82 L1300.06 339.1 L1300.11 338.31 L1300.16 337.47 L1300.21 336.56 L1300.26 335.57 L1300.31 334.52 L1300.36 333.38 L1300.41 332.15 L1300.46 330.83 L1300.52 329.41 L1300.57 327.87 L1300.62 326.23 L1300.67 324.45 L1300.72 322.54 L1300.77 320.48 L1300.82 318.27 L1300.87 315.89 L1300.92 313.32 L1300.97 310.56 L1301.02 307.6 L1301.04 306.82 L1301.07 304.4 L1301.12 300.96 L1301.18 297.27 L1301.23 293.29 L1301.28 289.01 L1301.33 284.4 L1301.38 279.45 L1301.43 274.12 L1301.48 268.38 L1301.53 262.21 L1301.58 255.58 L1301.61 252.08 L1301.63 248.44 L1301.68 240.76 L1301.73 232.51 L1301.79 223.62 L1301.84 214.07 L1301.89 203.79 L1301.94 192.74 L1301.99 180.85 L1302.04 168.07 L1302.09 154.31 L1302.14 139.52 L1302.18 127.7 L1302.19 123.61 L1302.24 106.5 L1302.29 127.29 L1302.34 146.3 L1302.39 163.7 L1302.45 179.62 L1302.5 194.18 L1302.55 207.51 L1302.6 219.71 L1302.65 230.87 L1302.7 241.08 L1302.75 250.42 L1302.8 258.97 L1302.85 266.79 L1302.9 273.95 L1302.95 280.5 L1303 286.5 L1303.06 291.98 L1303.11 297 L1303.16 301.6 L1303.21 305.8 L1303.26 309.65 L1303.31 313.17 L1303.32 314 L1303.36 316.39 L1303.41 319.34 L1303.46 322.04 L1303.51 324.51 L1303.56 326.77 L1303.61 328.83 L1303.66 330.73 L1303.72 332.46 L1303.77 334.04 L1303.82 335.5 L1303.87 336.82 L1303.89 337.45 L1303.92 338.04 L1303.97 339.15 L1304.02 340.17 L1304.07 341.11 L1304.12 341.96 L1304.17 342.74 L1304.22 343.46 L1304.27 344.11 L1304.33 344.71 L1304.38 345.26 L1304.43 345.76 L1304.46 346.11 L1304.48 346.22 L1304.53 346.65 L1304.58 347.03 L1304.63 347.39 L1304.68 347.71 L1304.73 348.01 L1304.78 348.28 L1304.83 348.53 L1304.88 348.76 L1304.93 348.96 L1304.99 349.16 L1305.04 349.33 L1305.09 349.49 L1305.14 349.64 L1305.19 349.77 L1305.24 349.9 L1305.29 350.01 L1305.34 350.12 L1305.39 350.21 L1305.44 350.3 L1305.49 350.41 L1305.54 350.52 L1305.6 350.35 L1305.61 350.33 L1305.65 350.28 L1305.7 350.84 L1305.75 350.98 L1305.8 350.88 L1305.85 350.52 L1305.9 351.16 L1305.95 351.09 L1306 350.9 L1306.05 350.58 L1306.1 351.2 L1306.15 351.07 L1306.18 351.08 L1306.2 350.67 L1306.26 351.19 L1306.31 350.72 L1306.36 351.05 L1306.41 350.84 L1306.46 351 L1306.51 351.39 L1306.56 351.3 L1306.61 351.36 L1306.66 351.01 L1306.71 351.09 L1306.75 351.25 L1306.76 350.85 L1306.81 351.12 L1306.87 351.52 L1306.92 351.38 L1306.97 351.46 L1307.02 351.07 L1307.07 351.35 L1307.12 351.43 L1307.17 351.37 L1307.22 351.19 L1307.27 351.01 L1307.32 350.91 L1307.37 351.52 L1307.42 351.55 L1307.47 351.1 L1307.53 351.44 L1307.58 351.2 L1307.63 351.35 L1307.68 351.5 L1307.73 351.14 L1307.78 351.35 L1307.83 351.1 L1307.88 351.28 L1307.89 350.95 L1307.93 351.11 L1307.98 351.13 L1308.03 351.57 L1308.08 351.02 L1308.14 351.46 L1308.19 350.99 L1308.24 351.62 L1308.29 351.05 L1308.34 351 L1308.39 351.08 L1308.44 351.59 L1308.47 351.41 L1308.49 351.56 L1308.54 351.29 L1308.59 351.02 L1308.64 351.18 L1308.69 351.26 L1308.74 351.63 L1308.8 351.06 L1308.85 351.11 L1308.9 351.53 L1308.95 351.02 L1309 351.62 L1309.04 351.15 L1309.05 351.34 L1309.1 351.41 L1309.15 351.58 L1309.2 351 L1309.25 351.54 L1309.3 351.07 L1309.35 351.45 L1309.41 350.97 L1309.46 351.48 L1309.51 351.07 L1309.56 351.09 L1309.61 350.97 L1309.66 351.17 L1309.71 351.18 L1309.76 351.64 L1309.81 351.37 L1309.86 351.2 L1309.91 351.64 L1309.96 351.07 L1310.01 351.1 L1310.07 351.62 L1310.12 351.61 L1310.17 351.43 L1310.18 351.63 L1310.22 350.99 L1310.27 351.58 L1310.32 351.44 L1310.37 351.42 L1310.42 351.54 L1310.47 351.02 L1310.52 351.09 L1310.57 351.05 L1310.62 351.28 L1310.68 351.33 L1310.73 351.33 L1310.75 351.2 L1310.78 351.47 L1310.83 351.54 L1310.88 351.48 L1310.93 350.98 L1310.98 351.06 L1311.03 351.1 L1311.08 351.12 L1311.13 351.35 L1311.18 351.09 L1311.23 351.39 L1311.28 351.19 L1311.32 351.2 L1311.34 351.45 L1311.39 351.61 L1311.44 351.08 L1311.49 351.19 L1311.54 351.64 L1311.59 351.1 L1311.64 350.97 L1311.69 351.08 L1311.74 351.53 L1311.79 351.46 L1311.84 351.61 L1311.89 351.3 L1311.95 350.98 L1312 351.16 L1312.05 351.45 L1312.1 351.22 L1312.15 351.05 L1312.2 351.21 L1312.25 351.27 L1312.3 351.2 L1312.35 351.26 L1312.4 351.05 L1312.47 350.97 L1313.04 351.5 L1313.61 351.46 L1314.18 351.24 L1314.75 351.03 L1315.32 351.16 L1315.89 351.34 L1316.47 351.58 L1317.04 351.29 L1317.61 351.63 L1318.18 351.32 L1318.75 351.08 L1319.32 351.38 L1319.9 351.37 L1320.47 351.37 L1321.04 351.46 L1321.61 350.97 L1322.18 351.26 L1322.75 351.51 L1323.32 351.05 L1323.9 350.98 L1324.47 351.08 L1325.04 351.15 L1325.61 351.25 L1326.18 351.17 L1326.75 351.39 L1327.33 351.07 L1327.9 351.19 L1328.47 351.42 L1329.04 351.33 L1329.61 351.62 L1330.18 351.61 L1330.75 351.13 L1331.33 351.18 L1331.9 351.33 L1332.47 351.33 L1333.04 351.21 L1333.61 351.55 L1334.18 351.09 L1334.75 351.28 L1335.33 351.03 L1335.9 351.57 L1336.47 351.37 L1337.04 351.64 L1337.61 351.05 L1338.18 351.45 L1338.75 351.37 L1339.33 350.99 L1339.9 351.52 L1340.47 351.56 L1341.04 351.01 L1341.61 351.61 L1342.18 351.5 L1342.76 351.37 L1343.33 351.33 L1343.9 351.13 L1344.47 350.99 L1345.04 351.28 L1345.61 351.56 L1346.18 351.1 L1346.76 351.28 L1347.33 351.15 L1347.9 351.43 L1348.47 351.62 L1349.04 351.57 L1349.61 351.15 L1350.18 351.24 L1350.76 350.95 L1351.33 351.32 L1351.9 351.55 L1352.47 351.54 L1353.04 351 L1353.61 351.25 L1354.19 351.01 L1354.76 351.25 L1355.33 351.59 L1355.9 351.15 L1356.47 351.54 L1357.04 351.62 L1357.61 351.52 L1358.19 351.09 L1358.76 351.59 L1359.33 351.6 L1359.9 351.65 L1360.47 350.96 L1361.04 350.95 L1361.62 351.15 L1362.19 351.31 L1362.76 351.25 L1363.33 351.01 L1363.9 351.4 L1364.47 351.42 L1365.04 351.39 L1365.62 351.31 L1366.19 351.33 L1366.76 351.43 L1367.33 351 L1367.9 351.26 L1368.47 351.04 L1369.04 351.02 L1369.62 351.48 L1370.19 351.18 L1370.76 351.19 L1371.33 351.14 L1371.9 351.36 L1372.47 351.03 L1373.05 351.4 L1373.62 351 L1374.19 351.62 L1374.76 351.06 L1375.33 351.49 L1375.9 351.33 L1376.47 351.25 L1377.05 351.16 L1377.62 351.2 L1378.19 351.48 L1378.76 351.32 L1379.33 351.33 L1379.9 351.12 L1380.47 351.39 L1381.05 351.07 L1381.62 351.29 L1382.19 351.41 L1382.76 351.33 L1383.33 351.36 L1383.9 351.35 L1384.47 351.09 L1385.05 351.62 L1385.62 351.43 L1386.19 351.46 L1386.76 351.62 L1387.33 351.27 L1387.9 351.18 L1388.48 351.16 L1389.05 351.17 L1389.62 351.16 L1390.19 351.17 L1390.76 351.1 L1391.33 351.29 L1391.9 351.15 L1392.48 351.21 L1393.05 351.41 L1393.62 351.17 L1394.19 351.55 L1394.76 351.51 L1395.33 351.18 L1395.9 351.53 L1396.48 351.07 L1397.05 351.02 L1397.62 351.65 L1398.19 350.97 L1398.76 350.95 L1399.33 351.56 L1399.91 350.95 L1400.48 351.41 L1401.05 351.34 L1401.62 351.11 L1402.19 351.12 L1402.76 351.63 L1403.33 351.23 L1403.91 351.12 L1404.48 351.26 L1405.05 351.46 L1405.62 351.15 L1406.19 351.01 L1406.76 351.5 L1407.34 351.02 L1407.91 350.99 L1408.48 350.95 L1409.05 351.65 L1409.62 351.25 L1410.19 351.47 L1410.76 351.34 L1411.34 351.63 L1411.91 351.19 L1412.48 351.19 L1413.05 351.43" stroke="#157a3a" stroke-width="3.2" fill="none" stroke-linejoin="round" stroke-linecap="round"/>
<path d="M1127.3 351.39 L1128 351.47 L1128.7 351.51 L1129.4 351.61 L1130.09 351.47 L1130.79 351.6 L1131.49 350.97 L1132.19 351.28 L1132.89 351.61 L1133.59 351.4 L1134.28 351.58 L1134.98 351.03 L1135.68 351.28 L1136.38 351.12 L1137.08 351.33 L1137.78 351.35 L1138.48 350.96 L1139.17 351.1 L1139.87 351.15 L1140.57 351.59 L1141.27 351.49 L1141.97 351.06 L1142.67 351.51 L1143.37 351.05 L1144.06 351.38 L1144.76 351.04 L1145.46 350.95 L1146.16 351.56 L1146.86 351.1 L1147.56 351.1 L1148.25 351.64 L1148.95 351.56 L1149.65 351.15 L1150.35 351.62 L1151.05 351.33 L1151.75 351.42 L1152.45 351.09 L1153.14 351.61 L1153.84 351.43 L1154.54 351.63 L1155.24 351.58 L1155.94 351.16 L1156.64 351.2 L1157.34 351.07 L1158.03 351.05 L1158.73 351 L1159.43 351.16 L1160.13 351.37 L1160.83 350.95 L1161.53 351.42 L1162.22 351.19 L1162.92 351.17 L1163.62 351.52 L1164.32 351.29 L1165.02 351.17 L1165.72 351.29 L1166.42 351.44 L1167.11 350.99 L1167.81 351.63 L1168.51 350.97 L1169.21 351.47 L1169.91 351.54 L1170.61 350.96 L1171.31 351.5 L1172 351.21 L1172.7 351.35 L1173.4 350.96 L1174.1 350.98 L1174.8 351.08 L1175.5 351.62 L1176.19 351.09 L1176.89 351.48 L1177.59 351.6 L1178.29 351.61 L1178.99 351.19 L1179.69 351.2 L1180.39 351.32 L1181.08 351.49 L1181.78 351.03 L1182.48 351.47 L1183.18 351.51 L1183.88 351.55 L1184.58 350.98 L1185.28 351.61 L1185.97 351.01 L1186.67 351.19 L1187.37 351.38 L1188.07 351.59 L1188.77 351.19 L1189.47 351.6 L1190.16 351.33 L1190.86 351.17 L1191.56 351.17 L1192.26 351.07 L1192.96 351 L1193.66 351.05 L1194.36 351.43 L1195.05 351.65 L1195.75 351.06 L1196.45 350.98 L1197.15 351.64 L1197.85 351.32 L1198.55 351.23 L1199.25 351.12 L1199.94 351.37 L1200.64 351.53 L1201.34 351.27 L1202.04 351.25 L1202.74 350.99 L1203.44 351.59 L1204.13 350.97 L1204.83 351.3 L1205.53 351.54 L1206.23 351.04 L1206.93 351.46 L1207.63 351.61 L1208.33 351.39 L1209.02 351.5 L1209.72 351.02 L1210.42 351.25 L1211.12 351.05 L1211.82 351.54 L1212.52 351.16 L1213.22 351.27 L1213.91 351.65 L1214.61 351.55 L1215.31 351.63 L1216.01 351.27 L1216.71 351.29 L1217.41 351.46 L1218.11 351.29 L1218.8 351.15 L1219.5 351.23 L1220.2 351.05 L1220.9 351.21 L1221.6 351.64 L1222.3 351.62 L1222.99 351.39 L1223.69 351.3 L1224.39 351.19 L1225.09 351.01 L1225.79 351.14 L1226.49 351.5 L1227.19 351.56 L1227.88 351.2 L1228.58 351.5 L1229.28 351.49 L1229.98 351.44 L1230.68 351.41 L1231.38 351.48 L1232.08 351.2 L1232.77 351.44 L1233.47 351.15 L1234.17 351.29 L1234.87 351.49 L1235.57 351.43 L1236.27 351.16 L1236.96 351.61 L1237.66 351.4 L1238.36 351.36 L1239.06 350.96 L1239.76 351.33 L1240.46 351.13 L1241.16 351.42 L1241.85 351.27 L1242.55 351.52 L1243.25 351.4 L1243.95 351.51 L1244.65 351.19 L1245.35 351.4 L1246.05 351.47 L1246.74 351.53 L1247.44 351.2 L1248.14 351.54 L1248.84 351.56 L1249.54 351.43 L1250.24 351.63 L1250.93 351.62 L1251.63 351.31 L1252.33 351.32 L1253.03 351.07 L1253.73 351.54 L1254.43 351.61 L1255.13 351.28 L1255.82 351.43 L1256.52 351.45 L1257.22 351.46 L1257.92 351.07 L1258.62 351.5 L1259.32 351.36 L1260.01 351.42 L1260.71 351.24 L1261.41 351.39 L1262.11 351.49 L1262.81 351.4 L1263.51 351.45 L1264.21 350.97 L1264.9 351.06 L1265.6 351.26 L1266.3 351.41 L1267 351.1 L1267.7 351.43 L1268.4 351.39 L1269.1 350.98 L1269.79 351.28 L1270.49 351.11 L1271.19 350.99 L1271.89 351.04 L1272.59 351.17 L1273.29 351.08 L1273.98 351.09 L1274.68 350.97 L1275.38 351.28 L1276.08 351.22 L1276.78 351.38 L1277.48 351.36 L1278.18 351.12 L1278.87 351.58 L1279.57 350.95 L1280.27 351.23 L1280.97 351.14 L1281.67 351.24 L1282.37 351.03 L1283.07 351.53 L1283.76 351.21 L1284.46 350.98 L1285.16 351.38 L1285.86 351.02 L1286.56 351.33 L1287.26 351.19 L1287.95 351.36 L1288.65 351.62 L1289.35 351.52 L1290.05 351.24 L1290.75 351.52 L1291.45 351.4 L1292.15 351.21 L1292.84 351.05 L1293.54 351.37 L1294.24 351.34 L1294.94 351.62 L1295.64 351.63 L1296.34 351.38 L1297.04 351.2 L1297.73 351.58 L1298.43 350.95 L1299.13 351.03 L1299.83 351.35 L1300.53 351.38 L1301.23 351.05 L1301.92 351.39 L1302.62 351.57 L1303.32 351.21 L1304.02 351.25 L1304.72 351.11 L1305.42 351.15 L1306.12 351.63 L1306.81 351.22 L1307.51 351.62 L1308.21 351.59 L1308.91 351.37 L1309.61 351.13 L1310.31 351.64 L1310.94 351.3 L1310.99 351.24 L1311.01 351.17 L1311.04 351.64 L1311.09 351.29 L1311.15 351.15 L1311.2 351.28 L1311.25 351.03 L1311.3 351.38 L1311.35 351.25 L1311.4 351.15 L1311.45 351.49 L1311.5 351.52 L1311.55 350.95 L1311.6 351.31 L1311.65 351.13 L1311.7 351.59 L1311.75 351.48 L1311.81 351.1 L1311.86 351.12 L1311.91 351.04 L1311.96 351.62 L1312.01 351.13 L1312.06 351.34 L1312.11 351.25 L1312.16 351.36 L1312.21 351.33 L1312.26 351.42 L1312.31 350.98 L1312.36 351.42 L1312.4 351.1 L1312.42 351.26 L1312.47 351.12 L1312.52 351.08 L1312.57 351.24 L1312.62 351.18 L1312.67 351.1 L1312.72 351.36 L1312.77 351.24 L1312.82 350.84 L1312.87 350.98 L1312.92 351.11 L1312.97 351.42 L1313.02 351.39 L1313.08 351.13 L1313.1 350.75 L1313.13 351.28 L1313.18 351.02 L1313.23 351.1 L1313.28 351.18 L1313.33 351.1 L1313.38 350.97 L1313.43 351.25 L1313.48 350.86 L1313.53 350.84 L1313.58 351.14 L1313.63 350.65 L1313.69 350.69 L1313.74 351.04 L1313.79 350.47 L1313.8 351 L1313.84 350.88 L1313.89 350.66 L1313.94 350.53 L1313.99 350.84 L1314.04 350.89 L1314.09 350.32 L1314.14 350.52 L1314.19 350.53 L1314.24 350.45 L1314.29 350.3 L1314.35 350.13 L1314.4 350.4 L1314.45 350.51 L1314.5 349.95 L1314.55 350.02 L1314.6 350.39 L1314.65 350.33 L1314.7 350.2 L1314.75 349.72 L1314.8 350.16 L1314.85 350.3 L1314.9 350.28 L1314.96 350.03 L1315.01 349.54 L1315.06 350.05 L1315.11 349.58 L1315.16 349.85 L1315.2 350.04 L1315.21 349.86 L1315.26 349.42 L1315.31 349.51 L1315.36 349.91 L1315.41 349.35 L1315.46 349.65 L1315.51 349.49 L1315.56 349.29 L1315.62 349.59 L1315.67 349.17 L1315.72 349.2 L1315.77 349.38 L1315.82 349.15 L1315.87 349.13 L1315.89 349.49 L1315.92 349.61 L1315.97 349.7 L1316.02 349.17 L1316.07 349.38 L1316.12 349.3 L1316.17 349.5 L1316.23 349.43 L1316.28 349.75 L1316.33 349.36 L1316.38 349.15 L1316.43 349.6 L1316.48 349.23 L1316.53 349.58 L1316.58 349.5 L1316.59 349.78 L1316.63 349.54 L1316.68 349.6 L1316.73 349.36 L1316.78 349.57 L1316.83 349.37 L1316.89 349.72 L1316.94 349.57 L1316.99 349.3 L1317.04 349.37 L1317.09 349.46 L1317.14 349.72 L1317.19 349.32 L1317.24 349.68 L1317.29 349.62 L1317.34 349.2 L1317.39 349.58 L1317.44 349.14 L1317.5 349.12 L1317.55 349.41 L1317.6 349.1 L1317.65 349.48 L1317.7 349.13 L1317.75 348.94 L1317.8 349.18 L1317.85 348.54 L1317.9 348.91 L1317.95 348.62 L1317.99 348.51 L1318 348.47 L1318.05 348.31 L1318.1 348.13 L1318.16 347.93 L1318.21 347.72 L1318.26 347.48 L1318.31 347.22 L1318.36 346.93 L1318.41 346.61 L1318.46 346.27 L1318.51 345.9 L1318.56 345.49 L1318.61 345.04 L1318.66 344.56 L1318.69 344.3 L1318.71 344.03 L1318.77 343.46 L1318.82 342.83 L1318.87 342.16 L1318.92 341.42 L1318.97 340.62 L1319.02 339.75 L1319.07 338.81 L1319.12 337.79 L1319.17 336.68 L1319.22 335.48 L1319.27 334.18 L1319.32 332.77 L1319.37 331.24 L1319.39 330.83 L1319.43 329.58 L1319.48 327.78 L1319.53 325.83 L1319.58 323.71 L1319.63 321.42 L1319.68 318.94 L1319.73 316.25 L1319.78 313.34 L1319.83 310.18 L1319.88 306.76 L1319.93 303.06 L1319.98 299.04 L1320.04 294.69 L1320.09 289.98 L1320.14 284.88 L1320.19 279.35 L1320.24 273.36 L1320.29 266.87 L1320.34 259.83 L1320.39 252.22 L1320.44 243.97 L1320.49 235.03 L1320.54 225.34 L1320.59 214.85 L1320.64 203.49 L1320.7 191.18 L1320.75 177.84 L1320.78 167.12 L1320.8 163.4 L1320.85 147.75 L1320.9 130.79 L1320.95 112.42 L1321 92.53 L1321.05 70.97 L1321.1 47.62 L1321.15 73.44 L1321.2 97.06 L1321.25 118.68 L1321.31 138.45 L1321.36 156.54 L1321.41 173.08 L1321.46 188.22 L1321.48 195.3 L1321.51 202.07 L1321.56 214.74 L1321.61 226.33 L1321.66 236.93 L1321.71 246.62 L1321.76 255.49 L1321.81 263.6 L1321.86 271.02 L1321.91 277.8 L1321.97 284 L1322.02 289.67 L1322.07 294.85 L1322.12 299.59 L1322.17 303.91 L1322.18 304.94 L1322.22 307.87 L1322.27 311.48 L1322.32 314.77 L1322.37 317.78 L1322.42 320.52 L1322.47 323.02 L1322.52 325.31 L1322.58 327.38 L1322.63 329.27 L1322.68 330.99 L1322.73 332.55 L1322.78 333.97 L1322.83 335.26 L1322.88 336.42 L1322.93 337.47 L1322.98 338.42 L1323.03 339.28 L1323.08 340.05 L1323.13 340.73 L1323.18 341.35 L1323.24 341.89 L1323.29 342.38 L1323.34 342.8 L1323.39 343.18 L1323.44 343.5 L1323.49 343.78 L1323.54 344.02 L1323.58 344.18 L1323.59 344.22 L1323.64 344.39 L1323.69 344.53 L1323.74 344.63 L1323.79 344.71 L1323.85 344.77 L1323.9 344.8 L1323.95 344.81 L1324 344.81 L1324.05 344.79 L1324.1 344.76 L1324.15 344.71 L1324.2 344.65 L1324.25 344.59 L1324.28 344.55 L1324.3 344.2 L1324.35 344.19 L1324.4 344.66 L1324.45 344.39 L1324.51 343.97 L1324.56 343.81 L1324.61 344.31 L1324.66 344 L1324.71 344.02 L1324.76 343.46 L1324.81 343.71 L1324.86 343.44 L1324.91 343.29 L1324.96 343.29 L1324.98 343.47 L1325.01 343.24 L1325.06 343.21 L1325.12 342.99 L1325.17 343.43 L1325.22 343.28 L1325.27 343.37 L1325.32 343.1 L1325.37 343.39 L1325.42 343.16 L1325.47 343.23 L1325.52 343.25 L1325.57 343.41 L1325.62 343.22 L1325.67 343.07 L1325.72 343.09 L1325.78 343.29 L1325.83 343.26 L1325.88 343.96 L1325.93 343.78 L1325.98 344.09 L1326.03 343.68 L1326.08 344.14 L1326.13 344.58 L1326.18 344.53 L1326.23 344.55 L1326.28 344.73 L1326.33 344.64 L1326.37 344.81 L1326.39 344.85 L1326.44 345.17 L1326.49 345.36 L1326.54 345.88 L1326.59 345.55 L1326.64 345.8 L1326.69 346 L1326.74 346.11 L1326.79 346.38 L1326.84 346.53 L1326.89 346.88 L1326.94 346.75 L1326.99 347.55 L1327.05 347.34 L1327.07 347.83 L1327.1 347.74 L1327.15 347.9 L1327.2 347.93 L1327.25 348.43 L1327.3 348.01 L1327.35 348.55 L1327.4 348.44 L1327.45 348.86 L1327.5 349.04 L1327.55 348.78 L1327.6 348.94 L1327.66 348.95 L1327.71 349.22 L1327.76 349.23 L1327.77 349.48 L1327.81 349.97 L1327.86 349.65 L1327.91 349.72 L1327.96 349.93 L1328.01 349.89 L1328.06 350.29 L1328.11 350.37 L1328.16 350.06 L1328.21 350.19 L1328.26 350.56 L1328.32 350.81 L1328.37 350.67 L1328.42 350.58 L1328.47 351.01 L1328.52 350.39 L1328.57 350.47 L1328.62 351.02 L1328.67 350.8 L1328.72 350.58 L1328.77 350.97 L1328.82 351.31 L1328.87 351.01 L1328.93 350.92 L1328.98 350.77 L1329.03 350.78 L1329.08 351.38 L1329.13 351.11 L1329.17 351.44 L1329.18 350.82 L1329.23 350.97 L1329.28 350.85 L1329.33 351.11 L1329.38 350.89 L1329.43 351.03 L1329.48 351.15 L1329.53 351.09 L1329.59 350.92 L1329.64 350.92 L1329.69 351.58 L1329.74 351.03 L1329.79 351.26 L1329.84 351.19 L1329.87 351.29 L1329.89 350.98 L1329.94 351.14 L1329.99 351 L1330.04 351.31 L1330.09 351.58 L1330.14 351.35 L1330.2 351.53 L1330.25 351.09 L1330.3 350.95 L1330.35 351.32 L1330.4 351.28 L1330.45 351.34 L1330.5 351.21 L1330.55 351.38 L1330.56 351.45 L1330.6 351.58 L1330.65 351.16 L1330.7 351.26 L1330.75 351.53 L1330.8 351.1 L1330.86 351.03 L1330.91 351.17 L1330.96 351.01 L1331.01 351.49 L1331.06 351.52 L1331.11 351.17 L1331.16 351.04 L1331.21 351.01 L1331.26 351.12 L1331.96 351.01 L1332.66 351.25 L1333.36 351.35 L1334.06 351.12 L1334.75 350.99 L1335.45 351.44 L1336.15 350.98 L1336.85 351.09 L1337.55 351.15 L1338.25 351.21 L1338.95 351.02 L1339.64 351.24 L1340.34 351.17 L1341.04 351.48 L1341.74 351.34 L1342.44 351.58 L1343.14 351.41 L1343.84 351.48 L1344.53 351.35 L1345.23 351.26 L1345.93 351.52 L1346.63 351.41 L1347.33 351.62 L1348.03 351.46 L1348.72 351.44 L1349.42 351.14 L1350.12 351.52 L1350.82 351.22 L1351.52 351.04 L1352.22 351 L1352.92 351.07 L1353.61 351.13 L1354.31 351.42 L1355.01 351.15 L1355.71 350.99 L1356.41 351.48 L1357.11 351.34 L1357.8 350.97 L1358.5 350.99 L1359.2 351.04 L1359.9 351.2 L1360.6 351.55 L1361.3 351.61 L1362 351.38 L1362.69 351.11 L1363.39 351.25 L1364.09 351.2 L1364.79 351.18 L1365.49 350.96 L1366.19 351.36 L1366.89 351.53 L1367.58 351.46 L1368.28 351.02 L1368.98 351.32 L1369.68 351.07 L1370.38 351.45 L1371.08 351.26 L1371.77 351.61 L1372.47 351.51 L1373.17 351.03 L1373.87 351.17 L1374.57 351.59 L1375.27 351.27 L1375.97 351.25 L1376.66 351.26 L1377.36 351.49 L1378.06 351.61 L1378.76 351.32 L1379.46 351.63 L1380.16 351.37 L1380.86 351.02 L1381.55 351.52 L1382.25 351.24 L1382.95 350.99 L1383.65 351.63 L1384.35 350.97 L1385.05 351.35 L1385.74 351.29 L1386.44 351.57 L1387.14 351.22 L1387.84 351.1 L1388.54 351.14 L1389.24 351.09 L1389.94 351.34 L1390.63 351.2 L1391.33 351.48 L1392.03 351.12 L1392.73 351.2 L1393.43 351.12 L1394.13 351.64 L1394.83 351.54 L1395.52 351.54 L1396.22 351.38 L1396.92 351.23 L1397.62 351.05 L1398.32 351.53 L1399.02 351.29 L1399.71 350.98 L1400.41 351.07 L1401.11 351.02 L1401.81 351.45 L1402.51 351.58 L1403.21 351.09 L1403.91 351.51 L1404.6 351.18 L1405.3 351.43 L1406 351.55 L1406.7 351.39 L1407.4 351.51 L1408.1 351.21 L1408.8 350.96 L1409.49 351.31 L1410.19 351.36 L1410.89 351.08 L1411.59 351.22 L1412.29 351.17 L1412.99 350.97 L1413.68 351.17 L1414.38 351.22 L1415.08 351.28 L1415.78 351.44 L1416.48 351.23 L1417.18 351.64 L1417.88 351.52 L1418.57 351.6 L1419.27 351.43 L1419.97 351.42 L1420.67 351.33 L1421.37 351.51 L1422.07 351.2 L1422.77 351.37 L1423.46 351.43 L1424.16 351.32 L1424.86 351.15 L1425.56 351 L1426.26 351.01 L1426.96 351.2 L1427.65 351.36 L1428.35 351.48 L1429.05 351.45 L1429.75 351.16 L1430.45 351.6 L1431.15 351.14 L1431.85 351.45 L1432.54 351 L1433.24 351.48 L1433.94 351.42 L1434.64 351.62 L1435.34 351.58 L1436.04 351.43 L1436.74 351.54 L1437.43 351.47 L1438.13 351.38 L1438.83 351.1 L1439.53 351.31 L1440.23 351.58 L1440.93 351.12 L1441.62 351.63 L1442.32 351.33 L1443.02 351.23 L1443.72 350.95 L1444.42 351.22 L1445.12 351.07 L1445.82 351.41 L1446.51 351.58 L1447.21 351.59 L1447.91 351.38 L1448.61 351.22 L1449.31 351.03 L1450.01 351.43 L1450.71 351.34 L1451.4 351.45 L1452.1 351.21 L1452.8 351.57 L1453.5 351.1 L1454.2 351.16 L1454.9 351.14 L1455.6 351.39 L1456.29 351.58 L1456.99 351.07 L1457.69 351.39 L1458.39 351.49 L1459.09 351.11 L1459.79 350.99 L1460.48 351.35 L1461.18 351.53 L1461.88 351.57 L1462.58 351.46 L1463.28 351.24 L1463.98 351.25 L1464.68 351.32 L1465.37 351.58 L1466.07 351.16 L1466.77 351.15 L1467.47 351.37 L1468.17 351.63 L1468.87 351.08 L1469.57 350.97 L1470.26 351.03 L1470.96 351.34 L1471.66 351.37 L1472.36 351.08 L1473.06 351.08 L1473.76 351.37 L1474.45 351.4 L1475.15 351.43 L1475.85 351.46 L1476.55 350.99" stroke="#f47f30" stroke-width="3.2" fill="none" stroke-linejoin="round" stroke-linecap="round"/>
<line x1="1127.3" y1="367.4" x2="1127.3" y2="361.9" stroke="#231f20" stroke-width="3"/>
<text x="1127.3" y="403" font-size="29.6" text-anchor="middle" fill="#231f20">0</text>
<line x1="1159.05" y1="367.4" x2="1159.05" y2="364.4" stroke="#231f20" stroke-width="3"/>
<line x1="1190.8" y1="367.4" x2="1190.8" y2="361.9" stroke="#231f20" stroke-width="3"/>
<text x="1190.8" y="403" font-size="29.6" text-anchor="middle" fill="#231f20">1</text>
<line x1="1222.55" y1="367.4" x2="1222.55" y2="364.4" stroke="#231f20" stroke-width="3"/>
<line x1="1254.3" y1="367.4" x2="1254.3" y2="361.9" stroke="#231f20" stroke-width="3"/>
<text x="1254.3" y="403" font-size="29.6" text-anchor="middle" fill="#231f20">2</text>
<line x1="1286.05" y1="367.4" x2="1286.05" y2="364.4" stroke="#231f20" stroke-width="3"/>
<line x1="1317.8" y1="367.4" x2="1317.8" y2="361.9" stroke="#231f20" stroke-width="3"/>
<text x="1317.8" y="403" font-size="29.6" text-anchor="middle" fill="#231f20">3</text>
<line x1="1349.55" y1="367.4" x2="1349.55" y2="364.4" stroke="#231f20" stroke-width="3"/>
<line x1="1381.3" y1="367.4" x2="1381.3" y2="361.9" stroke="#231f20" stroke-width="3"/>
<text x="1381.3" y="403" font-size="29.6" text-anchor="middle" fill="#231f20">4</text>
<line x1="1413.05" y1="367.4" x2="1413.05" y2="364.4" stroke="#231f20" stroke-width="3"/>
<line x1="1444.8" y1="367.4" x2="1444.8" y2="361.9" stroke="#231f20" stroke-width="3"/>
<text x="1444.8" y="403" font-size="29.6" text-anchor="middle" fill="#231f20">5</text>
<line x1="1476.55" y1="367.4" x2="1476.55" y2="364.4" stroke="#231f20" stroke-width="3"/>
<line x1="1127.3" y1="351.3" x2="1132.8" y2="351.3" stroke="#231f20" stroke-width="3"/>
<text x="1114.5" y="361.63" font-size="29.6" text-anchor="end" fill="#231f20">0</text>
<line x1="1127.3" y1="311.35" x2="1130.3" y2="311.35" stroke="#231f20" stroke-width="3"/>
<line x1="1127.3" y1="271.4" x2="1132.8" y2="271.4" stroke="#231f20" stroke-width="3"/>
<text x="1114.5" y="281.73" font-size="29.6" text-anchor="end" fill="#231f20">90</text>
<line x1="1127.3" y1="231.45" x2="1130.3" y2="231.45" stroke="#231f20" stroke-width="3"/>
<line x1="1127.3" y1="191.5" x2="1132.8" y2="191.5" stroke="#231f20" stroke-width="3"/>
<text x="1114.5" y="201.83" font-size="29.6" text-anchor="end" fill="#231f20">180</text>
<line x1="1127.3" y1="151.55" x2="1130.3" y2="151.55" stroke="#231f20" stroke-width="3"/>
<line x1="1127.3" y1="111.59" x2="1132.8" y2="111.59" stroke="#231f20" stroke-width="3"/>
<text x="1114.5" y="121.92" font-size="29.6" text-anchor="end" fill="#231f20">270</text>
<line x1="1127.3" y1="71.64" x2="1130.3" y2="71.64" stroke="#231f20" stroke-width="3"/>
<line x1="1127.3" y1="31.69" x2="1132.8" y2="31.69" stroke="#231f20" stroke-width="3"/>
<text x="1114.5" y="42.02" font-size="29.6" text-anchor="end" fill="#231f20">360</text>
<rect x="1127.3" y="31.7" width="349.5" height="335.7" fill="none" stroke="#231f20" stroke-width="3.3"/>
<text x="1364.1" y="71.5" font-size="26" fill="#231f20"><tspan dy="-0" font-size="26">V</tspan><tspan dy="8" font-size="17.8">dd</tspan></text>
<line x1="1346.5" y1="90.75" x2="1397.8" y2="90.75" stroke="#231f20" stroke-width="3.2" stroke-linecap="round"/>
<text x="1410.5" y="98.95" font-size="24" fill="#231f20">1.5 V</text>
<line x1="1346.5" y1="118.73" x2="1397.8" y2="118.73" stroke="#e8202b" stroke-width="3.2" stroke-linecap="round"/>
<text x="1410.5" y="126.93" font-size="24" fill="#231f20">2.5 V</text>
<line x1="1346.5" y1="146.71" x2="1397.8" y2="146.71" stroke="#1f48a0" stroke-width="3.2" stroke-linecap="round"/>
<text x="1410.5" y="154.91" font-size="24" fill="#231f20">3.5 V</text>
<line x1="1346.5" y1="174.69" x2="1397.8" y2="174.69" stroke="#157a3a" stroke-width="3.2" stroke-linecap="round"/>
<text x="1410.5" y="182.89" font-size="24" fill="#231f20">4.5 V</text>
<line x1="1346.5" y1="202.67" x2="1397.8" y2="202.67" stroke="#f47f30" stroke-width="3.2" stroke-linecap="round"/>
<text x="1410.5" y="210.87" font-size="24" fill="#231f20">5.5 V</text>
<text x="1302" y="441.9" font-size="30" text-anchor="middle" fill="#231f20"><tspan dy="-0" font-size="30">V</tspan><tspan dy="8.2" font-size="20.5">in</tspan><tspan dy="-8.2" font-size="30"> (V)</tspan></text>
<text x="0" y="0" font-size="30" text-anchor="middle" fill="#231f20" transform="translate(1047.5 199.3) rotate(-90)">Gain</text>
<path d="M1643.6 49.8 H1782.5 Q1796.5 49.8 1796.5 63.8 V189.5 H1643.6 Z" fill="#c8c9cb"/>
<path d="M1815.1 209.2 H1952 Q1965.4 209.2 1965.4 222.6 V353.1 H1815.1 Z" fill="#c8c9cb"/>
<path d="M1641.62 44.3 L1641.62 50.02 L1641.62 57.62 L1641.62 66.74 L1641.62 76.99 L1641.62 88.02 L1641.62 99.47 L1641.62 110.95 L1641.62 122.12 L1641.62 132.59 L1641.62 142 L1641.62 149.99 L1641.62 156.19 L1641.61 160.71 L1641.61 164.04 L1641.6 166.35 L1641.59 167.79 L1641.59 168.54 L1641.58 168.78 L1641.57 168.65 L1641.57 168.34 L1641.57 168.02 L1641.58 167.84 L1641.6 167.99 L1641.62 168.62 L1641.64 169.53 L1641.66 170.41 L1641.67 171.25 L1641.69 172.07 L1641.71 172.88 L1641.74 173.67 L1641.78 174.46 L1641.83 175.25 L1641.9 176.05 L1641.99 176.86 L1642.09 177.7 L1642.22 178.57 L1642.38 179.47 L1642.56 180.43 L1642.76 181.42 L1642.98 182.43 L1643.21 183.45 L1643.46 184.47 L1643.71 185.47 L1643.98 186.44 L1644.24 187.37 L1644.51 188.23 L1644.78 189.04 L1645.04 189.75 L1645.27 190.4 L1645.47 190.98 L1645.64 191.51 L1645.79 191.99 L1645.96 192.42 L1646.14 192.82 L1646.35 193.19 L1646.61 193.53 L1646.93 193.85 L1647.32 194.15 L1647.81 194.44 L1648.39 194.73 L1649.07 195 L1649.82 195.23 L1650.64 195.44 L1651.53 195.63 L1652.47 195.79 L1653.47 195.93 L1654.52 196.06 L1655.63 196.18 L1656.78 196.29 L1657.97 196.39 L1659.2 196.49 L1660.47 196.59 L1661.68 196.69 L1662.78 196.77 L1663.82 196.84 L1664.85 196.91 L1665.92 196.96 L1667.1 197 L1668.43 197.04 L1669.97 197.08 L1671.76 197.11 L1673.88 197.15 L1676.36 197.18 L1679.26 197.21 L1682.62 197.25 L1686.39 197.27 L1690.52 197.29 L1694.97 197.3 L1699.67 197.31 L1704.59 197.32 L1709.67 197.33 L1714.85 197.35 L1720.09 197.37 L1725.33 197.39 L1730.53 197.42 L1735.62 197.46 L1740.72 197.51 L1745.94 197.57 L1751.26 197.63 L1756.65 197.7 L1762.1 197.77 L1767.58 197.85 L1773.08 197.93 L1778.57 198.01 L1784.03 198.09 L1789.44 198.17 L1794.79 198.25 L1800.04 198.33 L1805.26 198.41 L1810.49 198.49 L1815.74 198.58 L1820.97 198.66 L1826.17 198.74 L1831.33 198.83 L1836.42 198.92 L1841.44 199 L1846.37 199.08 L1851.19 199.17 L1855.88 199.25 L1860.43 199.33 L1864.89 199.4 L1869.31 199.47 L1873.68 199.54 L1877.98 199.6 L1882.18 199.66 L1886.26 199.72 L1890.22 199.79 L1894.03 199.86 L1897.67 199.93 L1901.12 200.01 L1904.37 200.1 L1907.4 200.2 L1910.16 200.3 L1912.66 200.41 L1914.93 200.53 L1916.99 200.65 L1918.89 200.77 L1920.65 200.9 L1922.31 201.04 L1923.9 201.18 L1925.45 201.33 L1927 201.49 L1928.58 201.65 L1930.21 201.81 L1931.89 201.99 L1933.54 202.17 L1935.17 202.37 L1936.77 202.56 L1938.34 202.77 L1939.86 202.98 L1941.33 203.19 L1942.74 203.41 L1944.08 203.63 L1945.36 203.85 L1946.55 204.08 L1947.66 204.3 L1948.66 204.52 L1949.55 204.74 L1950.35 204.97 L1951.06 205.19 L1951.71 205.42 L1952.32 205.65 L1952.88 205.89 L1953.43 206.13 L1953.97 206.37 L1954.52 206.63 L1955.09 206.89 L1955.71 207.16 L1956.36 207.44 L1957.01 207.74 L1957.66 208.04 L1958.31 208.36 L1958.96 208.68 L1959.6 209.01 L1960.22 209.33 L1960.84 209.66 L1961.43 209.98 L1962.01 210.29 L1962.56 210.6 L1963.09 210.89 L1963.6 211.17 L1964.08 211.43 L1964.54 211.68 L1964.98 211.92 L1965.41 212.16 L1965.82 212.4 L1966.22 212.65 L1966.6 212.89 L1966.98 213.15 L1967.34 213.41 L1967.7 213.7 L1968.06 214 L1968.41 214.31 L1968.74 214.63 L1969.07 214.95 L1969.39 215.29 L1969.7 215.63 L1970 215.98 L1970.28 216.34 L1970.56 216.71 L1970.82 217.1 L1971.08 217.5 L1971.32 217.92 L1971.55 218.35 L1971.76 218.78 L1971.96 219.2 L1972.15 219.63 L1972.33 220.05 L1972.49 220.49 L1972.65 220.95 L1972.79 221.44 L1972.93 221.96 L1973.06 222.53 L1973.19 223.15 L1973.31 223.82 L1973.43 224.56 L1973.54 225.28 L1973.65 225.92 L1973.75 226.51 L1973.84 227.1 L1973.93 227.73 L1974.01 228.45 L1974.08 229.3 L1974.15 230.32 L1974.21 231.56 L1974.27 233.05 L1974.32 234.85 L1974.37 237 L1974.41 239.43 L1974.44 242.09 L1974.46 244.96 L1974.48 248.05 L1974.49 251.35 L1974.49 254.87 L1974.49 258.6 L1974.5 262.55 L1974.49 266.72 L1974.49 271.1 L1974.5 275.69 L1974.5 280.51 L1974.5 285.87 L1974.51 292 L1974.51 298.72 L1974.51 305.83 L1974.51 313.16 L1974.51 320.52 L1974.51 327.73 L1974.5 334.61 L1974.5 340.97 L1974.5 346.62 L1974.5 351.4 L1974.5 355.1" stroke="#e8202b" stroke-width="3.1" fill="none" stroke-linejoin="round" stroke-linecap="round"/>
<path d="M1639 44.3 L1643 44.3 L1648.15 44.3 L1654.25 44.3 L1661.12 44.3 L1668.54 44.29 L1676.32 44.29 L1684.27 44.29 L1692.18 44.29 L1699.86 44.29 L1707.11 44.29 L1713.73 44.3 L1719.52 44.3 L1724.72 44.3 L1729.68 44.3 L1734.41 44.3 L1738.9 44.3 L1743.17 44.31 L1747.2 44.31 L1751 44.31 L1754.56 44.32 L1757.89 44.34 L1760.99 44.36 L1763.86 44.39 L1766.49 44.42 L1768.8 44.47 L1770.75 44.52 L1772.36 44.57 L1773.7 44.63 L1774.8 44.69 L1775.72 44.76 L1776.49 44.83 L1777.18 44.91 L1777.81 45 L1778.45 45.09 L1779.13 45.19 L1779.91 45.29 L1780.71 45.4 L1781.44 45.52 L1782.11 45.63 L1782.72 45.76 L1783.28 45.88 L1783.81 46.02 L1784.31 46.16 L1784.78 46.31 L1785.24 46.47 L1785.7 46.65 L1786.15 46.83 L1786.62 47.04 L1787.09 47.25 L1787.53 47.47 L1787.97 47.71 L1788.38 47.95 L1788.79 48.21 L1789.18 48.47 L1789.56 48.75 L1789.93 49.03 L1790.28 49.33 L1790.64 49.63 L1790.98 49.95 L1791.32 50.27 L1791.64 50.6 L1791.95 50.93 L1792.23 51.27 L1792.51 51.62 L1792.78 51.97 L1793.04 52.34 L1793.29 52.72 L1793.55 53.12 L1793.82 53.53 L1794.09 53.96 L1794.37 54.4 L1794.67 54.87 L1794.99 55.36 L1795.32 55.87 L1795.65 56.4 L1796 56.96 L1796.35 57.53 L1796.7 58.11 L1797.05 58.7 L1797.4 59.3 L1797.74 59.9 L1798.07 60.5 L1798.39 61.11 L1798.7 61.7 L1798.99 62.28 L1799.27 62.81 L1799.55 63.32 L1799.81 63.82 L1800.07 64.33 L1800.33 64.85 L1800.57 65.41 L1800.82 66.01 L1801.06 66.67 L1801.3 67.41 L1801.54 68.24 L1801.78 69.16 L1802.03 70.19 L1802.27 71.3 L1802.51 72.48 L1802.74 73.72 L1802.98 75.03 L1803.21 76.39 L1803.44 77.8 L1803.66 79.25 L1803.87 80.73 L1804.08 82.24 L1804.28 83.78 L1804.47 85.33 L1804.65 86.84 L1804.82 88.3 L1804.99 89.74 L1805.15 91.17 L1805.3 92.65 L1805.45 94.18 L1805.59 95.82 L1805.73 97.57 L1805.86 99.49 L1805.98 101.59 L1806.1 103.9 L1806.21 106.46 L1806.32 109.26 L1806.41 112.27 L1806.5 115.47 L1806.58 118.85 L1806.65 122.37 L1806.72 126.04 L1806.79 129.83 L1806.86 133.72 L1806.93 137.7 L1807 141.74 L1807.07 145.84 L1807.15 149.97 L1807.24 154.19 L1807.33 158.53 L1807.41 163 L1807.51 167.56 L1807.6 172.21 L1807.69 176.93 L1807.78 181.71 L1807.87 186.53 L1807.96 191.38 L1808.05 196.23 L1808.14 201.08 L1808.23 205.92 L1808.31 210.78 L1808.4 215.73 L1808.49 220.75 L1808.57 225.81 L1808.66 230.89 L1808.75 235.99 L1808.83 241.07 L1808.91 246.11 L1808.98 251.11 L1809.05 256.03 L1809.11 260.87 L1809.17 265.59 L1809.21 270.31 L1809.24 275.13 L1809.27 279.98 L1809.29 284.84 L1809.3 289.64 L1809.32 294.34 L1809.33 298.89 L1809.34 303.25 L1809.35 307.37 L1809.37 311.2 L1809.4 314.7 L1809.43 317.8 L1809.47 320.49 L1809.51 322.79 L1809.54 324.75 L1809.58 326.41 L1809.62 327.84 L1809.66 329.07 L1809.71 330.16 L1809.77 331.16 L1809.83 332.11 L1809.91 333.07 L1810 334.09 L1810.11 335.21 L1810.22 336.38 L1810.32 337.53 L1810.44 338.63 L1810.55 339.7 L1810.68 340.72 L1810.82 341.7 L1810.97 342.62 L1811.15 343.5 L1811.35 344.31 L1811.57 345.07 L1811.83 345.77 L1812.12 346.4 L1812.43 346.94 L1812.74 347.39 L1813.07 347.75 L1813.41 348.05 L1813.78 348.29 L1814.17 348.49 L1814.6 348.66 L1815.08 348.81 L1815.59 348.95 L1816.16 349.11 L1816.79 349.29 L1817.49 349.51 L1818.26 349.74 L1819.13 349.98 L1820.07 350.21 L1821.06 350.44 L1822.11 350.66 L1823.19 350.88 L1824.29 351.1 L1825.39 351.31 L1826.48 351.52 L1827.55 351.72 L1828.58 351.92 L1829.56 352.12 L1830.5 352.31 L1831.4 352.5 L1832.28 352.68 L1833.14 352.86 L1834 353.04 L1834.85 353.21 L1835.7 353.38 L1836.57 353.54 L1837.46 353.69 L1838.37 353.84 L1839.32 353.98 L1840.3 354.11 L1840.98 354.23 L1841.14 354.34 L1840.95 354.45 L1840.6 354.55 L1840.27 354.64 L1840.13 354.73 L1840.38 354.81 L1841.19 354.88 L1842.75 354.94 L1845.24 355 L1848.83 355.06 L1853.72 355.1 L1860.41 355.13 L1869.03 355.16 L1879.2 355.17 L1890.5 355.17 L1902.55 355.17 L1914.95 355.16 L1927.3 355.15 L1939.21 355.14 L1950.28 355.12 L1960.12 355.11 L1968.32 355.1 L1974.5 355.1" stroke="#e8202b" stroke-width="3.1" fill="none" stroke-linejoin="round" stroke-linecap="round"/>
<line x1="1639.5" y1="44.2" x2="1802.5" y2="44.2" stroke="#231f20" stroke-width="3.2" stroke-dasharray="7.6 5.2"/>
<line x1="1639.5" y1="355" x2="1974.5" y2="355" stroke="#231f20" stroke-width="3.2" stroke-dasharray="7.6 5.2"/>
<line x1="1794.3" y1="37.8" x2="1794.3" y2="367" stroke="#231f20" stroke-width="3.2" stroke-dasharray="7.6 5.2"/>
<line x1="1814.7" y1="324" x2="1814.7" y2="367" stroke="#231f20" stroke-width="3.2" stroke-dasharray="7.6 5.2"/>
<line x1="1773.5" y1="32.2" x2="1816.5" y2="80.9" stroke="#231f20" stroke-width="3.2" stroke-dasharray="6.8 5.2"/>
<line x1="1798.4" y1="332" x2="1831.5" y2="364" stroke="#231f20" stroke-width="3.2" stroke-dasharray="6.8 5.2"/>
<circle cx="1794.3" cy="55.7" r="3.2" fill="#231f20"/>
<circle cx="1638.6" cy="44.5" r="3.2" fill="#231f20"/>
<circle cx="1639" cy="355" r="3.2" fill="#231f20"/>
<circle cx="1794.2" cy="367.5" r="3.2" fill="#231f20"/>
<circle cx="1814.6" cy="368" r="3.2" fill="#231f20"/>
<line x1="1639" y1="367.6" x2="1639" y2="362.1" stroke="#231f20" stroke-width="3"/>
<text x="1639" y="403.2" font-size="29.6" text-anchor="middle" fill="#231f20">0.0</text>
<line x1="1672.55" y1="367.6" x2="1672.55" y2="364.6" stroke="#231f20" stroke-width="3"/>
<line x1="1706.1" y1="367.6" x2="1706.1" y2="362.1" stroke="#231f20" stroke-width="3"/>
<text x="1706.1" y="403.2" font-size="29.6" text-anchor="middle" fill="#231f20">0.5</text>
<line x1="1739.65" y1="367.6" x2="1739.65" y2="364.6" stroke="#231f20" stroke-width="3"/>
<line x1="1773.2" y1="367.6" x2="1773.2" y2="362.1" stroke="#231f20" stroke-width="3"/>
<text x="1773.2" y="403.2" font-size="29.6" text-anchor="middle" fill="#231f20">1.0</text>
<line x1="1806.75" y1="367.6" x2="1806.75" y2="364.6" stroke="#231f20" stroke-width="3"/>
<line x1="1840.3" y1="367.6" x2="1840.3" y2="362.1" stroke="#231f20" stroke-width="3"/>
<text x="1840.3" y="403.2" font-size="29.6" text-anchor="middle" fill="#231f20">1.5</text>
<line x1="1873.85" y1="367.6" x2="1873.85" y2="364.6" stroke="#231f20" stroke-width="3"/>
<line x1="1907.4" y1="367.6" x2="1907.4" y2="362.1" stroke="#231f20" stroke-width="3"/>
<text x="1907.4" y="403.2" font-size="29.6" text-anchor="middle" fill="#231f20">2.0</text>
<line x1="1940.95" y1="367.6" x2="1940.95" y2="364.6" stroke="#231f20" stroke-width="3"/>
<line x1="1974.5" y1="367.6" x2="1974.5" y2="362.1" stroke="#231f20" stroke-width="3"/>
<text x="1974.5" y="403.2" font-size="29.6" text-anchor="middle" fill="#231f20">2.5</text>
<line x1="1639.5" y1="355.1" x2="1645" y2="355.1" stroke="#231f20" stroke-width="3"/>
<text x="1624.5" y="365.43" font-size="29.6" text-anchor="end" fill="#231f20">0.0</text>
<line x1="1639.5" y1="324.02" x2="1642.5" y2="324.02" stroke="#231f20" stroke-width="3"/>
<line x1="1639.5" y1="292.94" x2="1645" y2="292.94" stroke="#231f20" stroke-width="3"/>
<text x="1624.5" y="303.27" font-size="29.6" text-anchor="end" fill="#231f20">0.5</text>
<line x1="1639.5" y1="261.86" x2="1642.5" y2="261.86" stroke="#231f20" stroke-width="3"/>
<line x1="1639.5" y1="230.78" x2="1645" y2="230.78" stroke="#231f20" stroke-width="3"/>
<text x="1624.5" y="241.11" font-size="29.6" text-anchor="end" fill="#231f20">1.0</text>
<line x1="1639.5" y1="199.7" x2="1642.5" y2="199.7" stroke="#231f20" stroke-width="3"/>
<line x1="1639.5" y1="168.62" x2="1645" y2="168.62" stroke="#231f20" stroke-width="3"/>
<text x="1624.5" y="178.95" font-size="29.6" text-anchor="end" fill="#231f20">1.5</text>
<line x1="1639.5" y1="137.54" x2="1642.5" y2="137.54" stroke="#231f20" stroke-width="3"/>
<line x1="1639.5" y1="106.46" x2="1645" y2="106.46" stroke="#231f20" stroke-width="3"/>
<text x="1624.5" y="116.79" font-size="29.6" text-anchor="end" fill="#231f20">2.0</text>
<line x1="1639.5" y1="75.38" x2="1642.5" y2="75.38" stroke="#231f20" stroke-width="3"/>
<line x1="1639.5" y1="44.3" x2="1645" y2="44.3" stroke="#231f20" stroke-width="3"/>
<text x="1624.5" y="54.63" font-size="29.6" text-anchor="end" fill="#231f20">2.5</text>
<rect x="1639.5" y="31.5" width="348.7" height="336.1" fill="none" stroke="#231f20" stroke-width="3.3"/>
<line x1="1683" y1="91.2" x2="1650.66" y2="57.37" stroke="#231f20" stroke-width="3.3"/>
<polygon points="1639.6,45.8 1655.86,53.77 1646.83,62.41" fill="#231f20"/>
<line x1="1684.4" y1="313.6" x2="1653.1" y2="342.29" stroke="#231f20" stroke-width="3.3"/>
<polygon points="1641.3,353.1 1649.61,337.01 1658.06,346.22" fill="#231f20"/>
<line x1="1760.8" y1="316.8" x2="1784.34" y2="352.18" stroke="#231f20" stroke-width="3.3"/>
<polygon points="1793.2,365.5 1778.79,354.67 1788.78,348.02" fill="#231f20"/>
<line x1="1857" y1="305.5" x2="1825.32" y2="351.89" stroke="#231f20" stroke-width="3.3"/>
<polygon points="1816.3,365.1 1820.93,347.68 1830.84,354.44" fill="#231f20"/>
<text x="1685.3" y="91.6" font-size="25.5" fill="#231f20"><tspan dy="-0" font-size="25.5">V</tspan><tspan dy="8.1" font-size="16.5">OH</tspan></text>
<text x="1673.2" y="303.5" font-size="25.5" fill="#231f20"><tspan dy="-0" font-size="25.5">V</tspan><tspan dy="8.1" font-size="16.5">OL</tspan></text>
<text x="1748.1" y="301" font-size="25.5" fill="#231f20"><tspan dy="-0" font-size="25.5">V</tspan><tspan dy="8.1" font-size="16.5">IL</tspan></text>
<text x="1853.5" y="291.9" font-size="25.5" fill="#231f20"><tspan dy="-0" font-size="25.5">V</tspan><tspan dy="8.1" font-size="16.5">IH</tspan></text>
<text x="1845.5" y="72.2" font-size="25" fill="#231f20"><tspan dy="-0" font-size="25">V</tspan><tspan dy="9.6" font-size="16.5">dd</tspan><tspan dy="-9.6" font-size="25">= 2.5 V</tspan></text>
<text x="1820" y="130.8" font-size="25" fill="#231f20"><tspan dy="-0" font-size="25">NM</tspan><tspan dy="7.6" font-size="16.5">L</tspan><tspan dy="-7.6" font-size="25"> = V</tspan><tspan dy="7.6" font-size="16.5">IL</tspan><tspan dy="-7.6" font-size="25">-V</tspan><tspan dy="7.6" font-size="16.5">OL</tspan></text>
<text x="1820" y="167" font-size="25" fill="#231f20"><tspan dy="-0" font-size="25">NM</tspan><tspan dy="8.6" font-size="16.5">H</tspan><tspan dy="-8.6" font-size="25"> = V</tspan><tspan dy="8.6" font-size="16.5">OH</tspan><tspan dy="-8.6" font-size="25">-V</tspan><tspan dy="8.6" font-size="16.5">IH</tspan></text>
<text x="1813.5" y="444" font-size="30" text-anchor="middle" fill="#231f20"><tspan dy="-0" font-size="30">V</tspan><tspan dy="7.5" font-size="20.5">in</tspan><tspan dy="-7.5" font-size="30"> (V)</tspan></text>
<text x="0" y="0" font-size="30" text-anchor="middle" fill="#231f20" transform="translate(1555.8 200.5) rotate(-90)"><tspan dy="-0" font-size="30">V</tspan><tspan dy="8.2" font-size="20.5">out</tspan><tspan dy="-8.2" font-size="30"> (V)</tspan></text>
<line x1="125.2" y1="847.7" x2="125.2" y2="842.2" stroke="#231f20" stroke-width="3"/>
<text x="125.2" y="884.2" font-size="29.6" text-anchor="middle" fill="#231f20">1</text>
<line x1="159.85" y1="847.7" x2="159.85" y2="844.7" stroke="#231f20" stroke-width="3"/>
<line x1="194.5" y1="847.7" x2="194.5" y2="842.2" stroke="#231f20" stroke-width="3"/>
<text x="194.5" y="884.2" font-size="29.6" text-anchor="middle" fill="#231f20">2</text>
<line x1="229.15" y1="847.7" x2="229.15" y2="844.7" stroke="#231f20" stroke-width="3"/>
<line x1="263.8" y1="847.7" x2="263.8" y2="842.2" stroke="#231f20" stroke-width="3"/>
<text x="263.8" y="884.2" font-size="29.6" text-anchor="middle" fill="#231f20">3</text>
<line x1="298.45" y1="847.7" x2="298.45" y2="844.7" stroke="#231f20" stroke-width="3"/>
<line x1="333.1" y1="847.7" x2="333.1" y2="842.2" stroke="#231f20" stroke-width="3"/>
<text x="333.1" y="884.2" font-size="29.6" text-anchor="middle" fill="#231f20">4</text>
<line x1="367.75" y1="847.7" x2="367.75" y2="844.7" stroke="#231f20" stroke-width="3"/>
<line x1="402.4" y1="847.7" x2="402.4" y2="842.2" stroke="#231f20" stroke-width="3"/>
<text x="402.4" y="884.2" font-size="29.6" text-anchor="middle" fill="#231f20">5</text>
<line x1="437.05" y1="847.7" x2="437.05" y2="844.7" stroke="#231f20" stroke-width="3"/>
<line x1="471.7" y1="847.7" x2="471.7" y2="842.2" stroke="#231f20" stroke-width="3"/>
<text x="471.7" y="884.2" font-size="29.6" text-anchor="middle" fill="#231f20">6</text>
<line x1="125.2" y1="847.3" x2="130.7" y2="847.3" stroke="#231f20" stroke-width="3"/>
<text x="112.3" y="857.63" font-size="29.6" text-anchor="end" fill="#231f20">0.85</text>
<line x1="125.2" y1="792.15" x2="128.2" y2="792.15" stroke="#231f20" stroke-width="3"/>
<line x1="125.2" y1="737" x2="130.7" y2="737" stroke="#231f20" stroke-width="3"/>
<text x="112.3" y="747.33" font-size="29.6" text-anchor="end" fill="#231f20">0.90</text>
<line x1="125.2" y1="681.85" x2="128.2" y2="681.85" stroke="#231f20" stroke-width="3"/>
<line x1="125.2" y1="626.7" x2="130.7" y2="626.7" stroke="#231f20" stroke-width="3"/>
<text x="112.3" y="637.03" font-size="29.6" text-anchor="end" fill="#231f20">0.95</text>
<line x1="125.2" y1="571.55" x2="128.2" y2="571.55" stroke="#231f20" stroke-width="3"/>
<line x1="125.2" y1="516.4" x2="130.7" y2="516.4" stroke="#231f20" stroke-width="3"/>
<text x="112.3" y="526.73" font-size="29.6" text-anchor="end" fill="#231f20">1.00</text>
<rect x="125.2" y="516.4" width="346.5" height="331.3" fill="none" stroke="#231f20" stroke-width="3.3"/>
<path d="M159.2 737.1 L228.8 648.8 L298.3 686.4 L367.7 634.2 L437.3 640.5" stroke="#231f20" stroke-width="3" fill="none" stroke-linejoin="round" stroke-linecap="round"/>
<circle cx="159.2" cy="737.1" r="6.1" fill="url(#sph)" stroke="#fff" stroke-width="1"/>
<circle cx="228.8" cy="648.8" r="6.1" fill="url(#sph)" stroke="#fff" stroke-width="1"/>
<circle cx="298.3" cy="686.4" r="6.1" fill="url(#sph)" stroke="#fff" stroke-width="1"/>
<circle cx="367.7" cy="634.2" r="6.1" fill="url(#sph)" stroke="#fff" stroke-width="1"/>
<circle cx="437.3" cy="640.5" r="6.1" fill="url(#sph)" stroke="#fff" stroke-width="1"/>
<text x="298.5" y="927.5" font-size="29.5" text-anchor="middle" fill="#231f20"><tspan dy="-0" font-size="29.5">V</tspan><tspan dy="8" font-size="20.5">dd</tspan><tspan dy="-8" font-size="29.5"> (V)</tspan></text>
<text x="0" y="0" font-size="29" text-anchor="middle" fill="#231f20" transform="translate(24.4 681.5) rotate(-90)"><tspan dy="-0" font-size="29">(NM</tspan><tspan dy="7.5" font-size="20.5">L</tspan><tspan dy="-7.5" font-size="29">+NM</tspan><tspan dy="7.5" font-size="20.5">H</tspan><tspan dy="-7.5" font-size="29">)/V</tspan><tspan dy="7.5" font-size="20.5">dd</tspan></text>
<line x1="704.7" y1="516.9" x2="720.4" y2="516.9" stroke="#231f20" stroke-width="4"/>
<path d="M713 516.9 V547.1 H630.8 V590.7 H608 V624.3 H636 V665.7 H737.1" stroke="#231f20" stroke-width="4" fill="none" stroke-linejoin="miter"/>
<path d="M713 547.1 V589.6 H690.1 V624.3 H713 V708.9 H689.6 V746 H713 V795 H689.6 V828.5 H713 V875.7" stroke="#231f20" stroke-width="4" fill="none" stroke-linejoin="miter"/>
<line x1="596.1" y1="588.5" x2="596.1" y2="625.4" stroke="#231f20" stroke-width="4"/>
<line x1="677.8" y1="588.5" x2="677.8" y2="625.4" stroke="#231f20" stroke-width="4"/>
<path d="M596.1 605.7 H572.8 V811.5" stroke="#231f20" stroke-width="4" fill="none"/>
<path d="M677.8 607.5 H659 V727.5" stroke="#231f20" stroke-width="4" fill="none"/>
<line x1="678" y1="707.5" x2="678" y2="747.4" stroke="#231f20" stroke-width="4"/>
<line x1="678" y1="792.7" x2="678" y2="829.8" stroke="#231f20" stroke-width="4"/>
<line x1="556.2" y1="727.7" x2="678" y2="727.7" stroke="#231f20" stroke-width="4"/>
<line x1="556.2" y1="811.5" x2="678" y2="811.5" stroke="#231f20" stroke-width="4"/>
<circle cx="713" cy="547.1" r="6.4" fill="#231f20"/>
<circle cx="713" cy="665.7" r="6.4" fill="#231f20"/>
<circle cx="659" cy="727.5" r="6.4" fill="#231f20"/>
<circle cx="572.8" cy="810.8" r="6.4" fill="#231f20"/>
<line x1="693.7" y1="875.7" x2="733" y2="875.7" stroke="#231f20" stroke-width="4"/>
<line x1="700" y1="884.8" x2="727.6" y2="884.8" stroke="#231f20" stroke-width="4"/>
<line x1="706" y1="893" x2="721.5" y2="893" stroke="#231f20" stroke-width="4"/>
<line x1="783" y1="516.9" x2="799.8" y2="516.9" stroke="#231f20" stroke-width="4"/>
<path d="M792 516.9 V553.8 H814 V587.7 H792 V635.6 H814 V672.5 H792 V758 H814.3 V792.3 H792 V875.7" stroke="#231f20" stroke-width="4" fill="none" stroke-linejoin="miter"/>
<line x1="825.9" y1="552.2" x2="825.9" y2="589" stroke="#231f20" stroke-width="4"/>
<line x1="825.9" y1="635.6" x2="825.9" y2="673.6" stroke="#231f20" stroke-width="4"/>
<line x1="825.9" y1="571.7" x2="947.3" y2="571.7" stroke="#231f20" stroke-width="4"/>
<line x1="825.9" y1="654.6" x2="947.3" y2="654.6" stroke="#231f20" stroke-width="4"/>
<path d="M930.7 571.7 V776.3 H907.7" stroke="#231f20" stroke-width="4" fill="none"/>
<path d="M844.6 655 V775.1 H825.7" stroke="#231f20" stroke-width="4" fill="none"/>
<path d="M764.3 716.6 H870 V757.1 H897 V792.3 H872.9 V835.1 H792" stroke="#231f20" stroke-width="4" fill="none" stroke-linejoin="miter"/>
<line x1="825.7" y1="757" x2="825.7" y2="794.3" stroke="#231f20" stroke-width="4"/>
<line x1="907.7" y1="757" x2="907.7" y2="794.3" stroke="#231f20" stroke-width="4"/>
<circle cx="930.7" cy="571.7" r="6.4" fill="#231f20"/>
<circle cx="844.6" cy="655.2" r="6.4" fill="#231f20"/>
<circle cx="792" cy="716.6" r="6.4" fill="#231f20"/>
<circle cx="792" cy="835.1" r="6.4" fill="#231f20"/>
<line x1="771.4" y1="875.7" x2="811.4" y2="875.7" stroke="#231f20" stroke-width="4"/>
<line x1="776.6" y1="884.3" x2="806.3" y2="884.3" stroke="#231f20" stroke-width="4"/>
<line x1="784.3" y1="892.9" x2="798.6" y2="892.9" stroke="#231f20" stroke-width="4"/>
<text x="735.9" y="526.7" font-size="30" fill="#231f20"><tspan dy="-0" font-size="30">V</tspan><tspan dy="9" font-size="20.5">dd</tspan></text>
<text x="735.2" y="701.4" font-size="30" fill="#231f20"><tspan dy="-0" font-size="30">V</tspan><tspan dy="8.6" font-size="20.5">out</tspan></text>
<text x="533" y="735.3" font-size="29" fill="#231f20">A</text>
<text x="532" y="818.8" font-size="29" fill="#231f20">B</text>
<text x="952.8" y="581.8" font-size="29" fill="#231f20">A</text>
<text x="951.5" y="664.7" font-size="29" fill="#231f20">B</text>
<text x="635.6" y="612.5" font-size="29.5" fill="#231f20">p</text>
<text x="715.8" y="612.5" font-size="29.5" fill="#231f20">p</text>
<text x="775.5" y="580.6" font-size="29.5" fill="#231f20">p</text>
<text x="775.5" y="663" font-size="29.5" fill="#231f20">p</text>
<text x="716" y="736.4" font-size="29" fill="#231f20">n</text>
<text x="717.3" y="824.3" font-size="29" fill="#231f20">n</text>
<text x="775.8" y="785.7" font-size="29" fill="#231f20">n</text>
<text x="855.1" y="785.7" font-size="29" fill="#231f20">n</text>
<text x="529" y="900.5" font-size="29" fill="#231f20">NAND Gate</text>
<text x="825" y="900.9" font-size="29" fill="#231f20">NOR Gate</text>
<text x="721" y="920.9" font-size="29" fill="#231f20">GND</text>
<line x1="1217.4" y1="521.2" x2="1217.4" y2="846" stroke="#231f20" stroke-width="2.4" stroke-dasharray="5.5 4.9"/>
<line x1="1307.6" y1="521.9" x2="1307.6" y2="846" stroke="#231f20" stroke-width="2.4" stroke-dasharray="5.5 4.9"/>
<text x="1231.2" y="679.7" font-size="25.2" fill="#231f20">NAND Gate</text>
<line x1="1130" y1="531.3" x2="1397.3" y2="531.3" stroke="#231f20" stroke-width="6.6"/>
<line x1="1396.1" y1="528.5" x2="1396.1" y2="838" stroke="#231f20" stroke-width="3.8"/>
<line x1="1396.1" y1="847" x2="1396.1" y2="843.5" stroke="#231f20" stroke-width="2.5"/>
<path d="M1392.8 834.1 L1393.73 834.07 L1394.96 834.02 L1396.43 833.97 L1398.06 833.91 L1399.8 833.85 L1401.58 833.79 L1403.33 833.74 L1405 833.7 L1406.66 833.66 L1408.4 833.62 L1410.19 833.57 L1411.99 833.53 L1413.75 833.51 L1415.43 833.51 L1416.99 833.53 L1418.4 833.6 L1419.63 833.71 L1420.72 833.86 L1421.71 834.05 L1422.61 834.26 L1423.46 834.47 L1424.29 834.69 L1425.12 834.91 L1426 835.1 L1426.89 835.29 L1427.77 835.5 L1428.63 835.71 L1429.48 835.92 L1430.33 836.11 L1431.18 836.28 L1432.03 836.41 L1432.9 836.5 L1433.74 836.55 L1434.53 836.57 L1435.31 836.57 L1436.1 836.54 L1436.93 836.48 L1437.84 836.38 L1438.85 836.26 L1440 836.1 L1441.3 835.87 L1442.74 835.56 L1444.28 835.19 L1445.89 834.8 L1447.55 834.42 L1449.23 834.09 L1450.89 833.84 L1452.5 833.7 L1454.1 833.68 L1455.73 833.76 L1457.37 833.91 L1459.01 834.11 L1460.64 834.34 L1462.24 834.56 L1463.8 834.75 L1465.3 834.9 L1466.81 835.01 L1468.37 835.11 L1469.94 835.2 L1471.45 835.27 L1472.86 835.35 L1474.13 835.41 L1475.19 835.46 L1476 835.5 L1476 841.9 L1475.19 841.86 L1474.13 841.81 L1472.86 841.75 L1471.45 841.67 L1469.94 841.6 L1468.37 841.51 L1466.81 841.41 L1465.3 841.3 L1463.8 841.15 L1462.24 840.96 L1460.64 840.74 L1459.01 840.51 L1457.37 840.31 L1455.73 840.16 L1454.1 840.08 L1452.5 840.1 L1450.89 840.24 L1449.23 840.49 L1447.55 840.82 L1445.89 841.2 L1444.28 841.59 L1442.74 841.96 L1441.3 842.27 L1440 842.5 L1438.85 842.66 L1437.84 842.78 L1436.93 842.88 L1436.1 842.94 L1435.31 842.97 L1434.53 842.97 L1433.74 842.95 L1432.9 842.9 L1432.03 842.81 L1431.18 842.68 L1430.33 842.51 L1429.48 842.32 L1428.63 842.11 L1427.77 841.9 L1426.89 841.69 L1426 841.5 L1425.12 841.31 L1424.29 841.09 L1423.46 840.87 L1422.61 840.66 L1421.71 840.45 L1420.72 840.26 L1419.63 840.11 L1418.4 840 L1416.99 839.93 L1415.43 839.91 L1413.75 839.91 L1411.99 839.93 L1410.19 839.97 L1408.4 840.02 L1406.66 840.06 L1405 840.1 L1403.33 840.14 L1401.58 840.19 L1399.8 840.25 L1398.06 840.31 L1396.43 840.37 L1394.96 840.42 L1393.73 840.47 L1392.8 840.5 Z" fill="#231f20" stroke="#231f20" stroke-width="0.6" stroke-linejoin="round"/>
<line x1="1128.9" y1="842.2" x2="1134.4" y2="842.2" stroke="#231f20" stroke-width="3"/>
<text x="1115.4" y="852.53" font-size="29.6" text-anchor="end" fill="#231f20">0.0</text>
<line x1="1128.9" y1="779.96" x2="1134.4" y2="779.96" stroke="#231f20" stroke-width="3"/>
<text x="1115.4" y="790.29" font-size="29.6" text-anchor="end" fill="#231f20">0.2</text>
<line x1="1128.9" y1="717.72" x2="1134.4" y2="717.72" stroke="#231f20" stroke-width="3"/>
<text x="1115.4" y="728.05" font-size="29.6" text-anchor="end" fill="#231f20">0.4</text>
<line x1="1128.9" y1="655.48" x2="1134.4" y2="655.48" stroke="#231f20" stroke-width="3"/>
<text x="1115.4" y="665.81" font-size="29.6" text-anchor="end" fill="#231f20">0.6</text>
<line x1="1128.9" y1="593.24" x2="1134.4" y2="593.24" stroke="#231f20" stroke-width="3"/>
<text x="1115.4" y="603.57" font-size="29.6" text-anchor="end" fill="#231f20">0.8</text>
<line x1="1128.9" y1="531" x2="1134.4" y2="531" stroke="#231f20" stroke-width="3"/>
<text x="1115.4" y="541.33" font-size="29.6" text-anchor="end" fill="#231f20">1.0</text>
<rect x="1128.9" y="516.1" width="348.1" height="331.4" fill="none" stroke="#231f20" stroke-width="3.3"/>
<text x="1167.8" y="564" font-size="23" text-anchor="middle" fill="#231f20">1</text>
<text x="1262.3" y="564" font-size="23" text-anchor="middle" fill="#231f20">1</text>
<text x="1355" y="564" font-size="23" text-anchor="middle" fill="#231f20">1</text>
<text x="1443.6" y="827.4" font-size="23.5" text-anchor="middle" fill="#231f20">0</text>
<text x="1172.2" y="886.2" font-size="29" text-anchor="middle" fill="#231f20">(0, 0)</text>
<text x="1261" y="886.2" font-size="29" text-anchor="middle" fill="#231f20">(0, 1)</text>
<text x="1349" y="886.2" font-size="29" text-anchor="middle" fill="#231f20">(1, 0)</text>
<text x="1437.8" y="886.2" font-size="29" text-anchor="middle" fill="#231f20">(1, 1)</text>
<text x="1302.7" y="930.8" font-size="29.2" text-anchor="middle" fill="#231f20">Input state (A, B)</text>
<text x="0" y="0" font-size="29" text-anchor="middle" fill="#231f20" transform="translate(1043.6 681.5) rotate(-90)"><tspan dy="-0" font-size="29">V</tspan><tspan dy="7.5" font-size="20">out</tspan><tspan dy="-7.5" font-size="29">/V</tspan><tspan dy="7.5" font-size="20">dd</tspan></text>
<line x1="1814.5" y1="521.5" x2="1814.5" y2="846" stroke="#231f20" stroke-width="2.4" stroke-dasharray="5.5 4.9"/>
<line x1="1900.3" y1="521.5" x2="1900.3" y2="846" stroke="#231f20" stroke-width="2.4" stroke-dasharray="5.5 4.9"/>
<line x1="1641" y1="531.3" x2="1728" y2="531.3" stroke="#231f20" stroke-width="6.8"/>
<line x1="1726.2" y1="520.5" x2="1726.2" y2="528" stroke="#231f20" stroke-width="2.4"/>
<polygon points="1727,527.8 1731,531.3 1727,534.8" fill="#231f20"/>
<line x1="1726.2" y1="528.5" x2="1726.2" y2="840" stroke="#231f20" stroke-width="3.8"/>
<path d="M1724 838.46 L1724.93 838.47 L1726.11 838.66 L1727.5 838.17 L1729.06 838.07 L1730.75 837.99 L1732.54 837.52 L1734.4 837.64 L1736.29 837.61 L1738.17 837.62 L1740 836.98 L1741.84 837.08 L1743.74 836.85 L1745.71 837.39 L1747.71 837.26 L1749.75 836.71 L1751.81 837.45 L1753.87 837.42 L1755.94 837.16 L1757.98 837.11 L1760 836.73 L1762.02 836.6 L1764.08 837 L1766.16 836.63 L1768.24 836.74 L1770.31 836.78 L1772.36 836.61 L1774.37 836.95 L1776.32 836.92 L1778.2 837.22 L1780 836.92 L1781.75 836.96 L1783.48 836.77 L1785.18 836.82 L1786.84 836.57 L1788.44 836.33 L1789.96 836.8 L1791.39 836.7 L1792.72 836.47 L1793.93 836.26 L1795 835.85 L1795.91 835.68 L1796.64 835.61 L1797.23 835.3 L1797.72 835.72 L1798.12 835.3 L1798.48 835.54 L1798.81 835.07 L1799.16 835.44 L1799.55 835.3 L1800 834.6 L1800.49 834.79 L1800.97 835.4 L1801.44 835.13 L1801.9 835.64 L1802.38 835.29 L1802.86 835.16 L1803.35 835.74 L1803.87 835.99 L1804.42 835.71 L1805 835.67 L1805.57 835.97 L1806.1 836.57 L1806.61 836.51 L1807.13 836.1 L1807.69 836.31 L1808.31 836.3 L1809.03 836.36 L1809.86 837.05 L1810.85 836.65 L1812 837.05 L1813.35 837.05 L1814.86 836.94 L1816.53 837.48 L1818.31 837.1 L1820.19 837.6 L1822.13 837.27 L1824.11 837.59 L1826.1 837.49 L1828.07 837.59 L1830 838.18 L1831.92 838.05 L1833.87 837.63 L1835.85 838.05 L1837.86 837.45 L1839.88 837.53 L1841.9 837.84 L1843.94 837.61 L1845.97 837.12 L1847.99 837.8 L1850 837.17 L1852 837.22 L1854 837.67 L1856 837.38 L1858 837.42 L1860 837.31 L1862 837.39 L1864 837.85 L1866 837.64 L1868 837.96 L1870 837.8 L1872.04 837.86 L1874.16 838.25 L1876.32 837.84 L1878.48 837.87 L1880.62 838.06 L1882.72 837.46 L1884.74 837.38 L1886.64 837.93 L1888.4 837.8 L1890 837.3 L1891.36 837.21 L1892.48 837.6 L1893.42 837.71 L1894.24 837.07 L1895 837.62 L1895.76 837.52 L1896.58 837.24 L1897.52 837.05 L1898.64 836.74 L1900 836.63 L1901.55 837.31 L1903.2 836.67 L1904.95 836.98 L1906.8 836.55 L1908.75 836.93 L1910.8 836.69 L1912.95 836.38 L1915.2 836.23 L1917.55 836.62 L1920 836.06 L1922.56 836.15 L1925.23 836.39 L1928.01 836.61 L1930.9 836.41 L1933.88 836.13 L1936.94 836.64 L1940.1 836.06 L1943.33 835.91 L1946.63 836.12 L1950 836.26 L1953.65 835.95 L1957.7 836.05 L1962.01 836.21 L1966.45 836.39 L1970.88 836.05 L1975.15 836.25 L1979.14 836.68 L1982.7 836.77 L1985.7 836.52 L1988 836.55 L1988 846 L1724 846 L1722 842 Z" fill="#231f20"/>
<line x1="1640" y1="842.2" x2="1645.5" y2="842.2" stroke="#231f20" stroke-width="3"/>
<text x="1626.5" y="852.53" font-size="29.6" text-anchor="end" fill="#231f20">0.0</text>
<line x1="1640" y1="779.96" x2="1645.5" y2="779.96" stroke="#231f20" stroke-width="3"/>
<text x="1626.5" y="790.29" font-size="29.6" text-anchor="end" fill="#231f20">0.2</text>
<line x1="1640" y1="717.72" x2="1645.5" y2="717.72" stroke="#231f20" stroke-width="3"/>
<text x="1626.5" y="728.05" font-size="29.6" text-anchor="end" fill="#231f20">0.4</text>
<line x1="1640" y1="655.48" x2="1645.5" y2="655.48" stroke="#231f20" stroke-width="3"/>
<text x="1626.5" y="665.81" font-size="29.6" text-anchor="end" fill="#231f20">0.6</text>
<line x1="1640" y1="593.24" x2="1645.5" y2="593.24" stroke="#231f20" stroke-width="3"/>
<text x="1626.5" y="603.57" font-size="29.6" text-anchor="end" fill="#231f20">0.8</text>
<line x1="1640" y1="531" x2="1645.5" y2="531" stroke="#231f20" stroke-width="3"/>
<text x="1626.5" y="541.33" font-size="29.6" text-anchor="end" fill="#231f20">1.0</text>
<rect x="1640" y="516.1" width="348" height="331.4" fill="none" stroke="#231f20" stroke-width="3.3"/>
<text x="1679.5" y="565" font-size="23" text-anchor="middle" fill="#231f20">1</text>
<text x="1772.1" y="822.7" font-size="23.5" text-anchor="middle" fill="#231f20">0</text>
<text x="1870.3" y="822.7" font-size="23.5" text-anchor="middle" fill="#231f20">0</text>
<text x="1955.1" y="822.7" font-size="23.5" text-anchor="middle" fill="#231f20">0</text>
<text x="1753.6" y="681.3" font-size="25" fill="#231f20">NOR Gate</text>
<text x="1682" y="884" font-size="29" text-anchor="middle" fill="#231f20">(0, 0)</text>
<text x="1770.2" y="884" font-size="29" text-anchor="middle" fill="#231f20">(0, 1)</text>
<text x="1858.5" y="884" font-size="29" text-anchor="middle" fill="#231f20">(1, 0)</text>
<text x="1946.5" y="884" font-size="29" text-anchor="middle" fill="#231f20">(1, 1)</text>
<text x="1813.5" y="929" font-size="29.2" text-anchor="middle" fill="#231f20">Input state (A, B)</text>
<text x="0" y="0" font-size="29" text-anchor="middle" fill="#231f20" transform="translate(1553.6 681.5) rotate(-90)"><tspan dy="-0" font-size="29">V</tspan><tspan dy="7.5" font-size="20">out</tspan><tspan dy="-7.5" font-size="29">/V</tspan><tspan dy="7.5" font-size="20">dd</tspan></text>
</svg></body></html>
